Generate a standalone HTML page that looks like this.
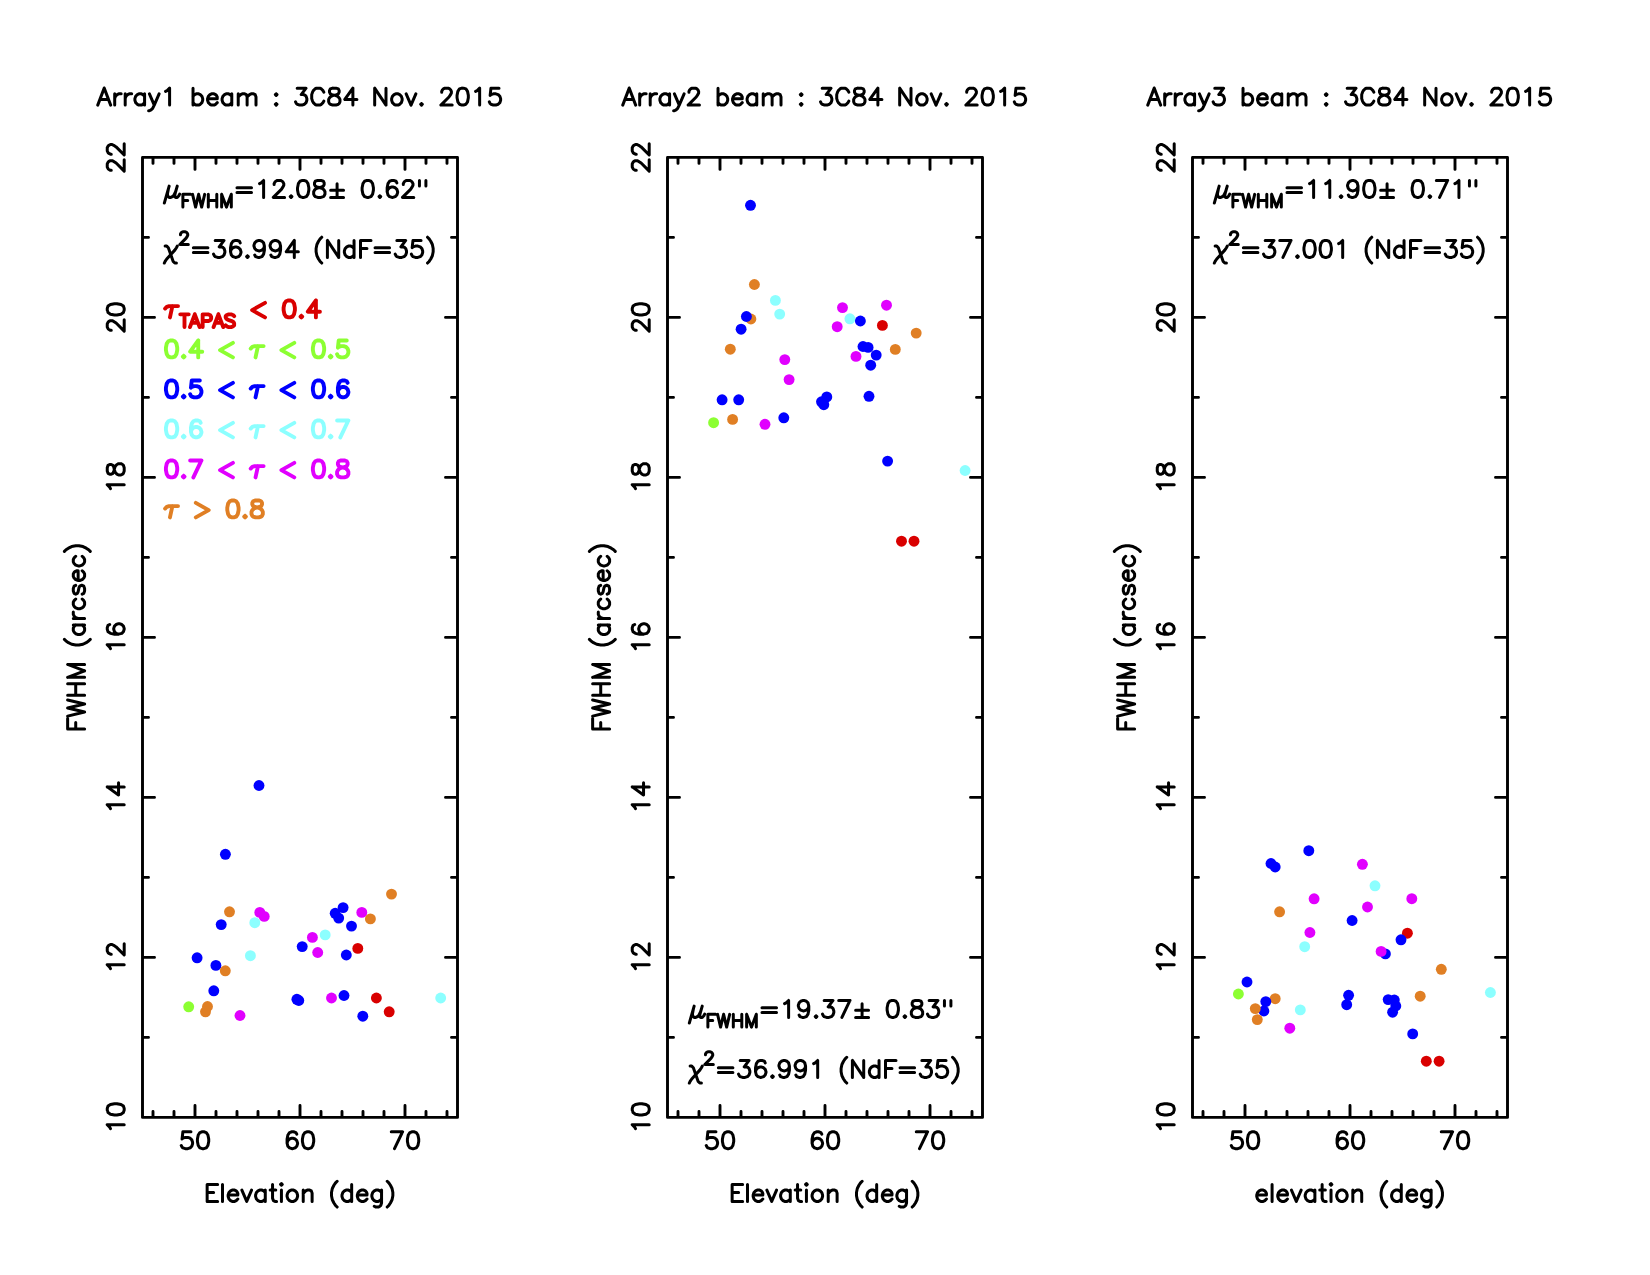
<!DOCTYPE html><html><head><meta charset="utf-8"><style>html,body{margin:0;padding:0;background:#fff;}svg{display:block;}</style></head><body>
<svg width="1650" height="1275" viewBox="0 0 1650 1275">
<rect width="1650" height="1275" fill="#fff"/>
<g fill="none" stroke="#000" stroke-linecap="round" stroke-linejoin="round">
<path stroke-width="2.90" d="M142.5 157.4H457.5V1117.4H142.5ZM153.00 1117.40V1111.40M153.00 157.40V163.40M174.00 1117.40V1111.40M174.00 157.40V163.40M195.00 1117.40V1105.40M195.00 157.40V169.40M216.00 1117.40V1111.40M216.00 157.40V163.40M237.00 1117.40V1111.40M237.00 157.40V163.40M258.00 1117.40V1111.40M258.00 157.40V163.40M279.00 1117.40V1111.40M279.00 157.40V163.40M300.00 1117.40V1105.40M300.00 157.40V169.40M321.00 1117.40V1111.40M321.00 157.40V163.40M342.00 1117.40V1111.40M342.00 157.40V163.40M363.00 1117.40V1111.40M363.00 157.40V163.40M384.00 1117.40V1111.40M384.00 157.40V163.40M405.00 1117.40V1105.40M405.00 157.40V169.40M426.00 1117.40V1111.40M426.00 157.40V163.40M447.00 1117.40V1111.40M447.00 157.40V163.40M142.50 1037.40H148.50M457.50 1037.40H451.50M142.50 957.40H154.50M457.50 957.40H445.50M142.50 877.40H148.50M457.50 877.40H451.50M142.50 797.40H154.50M457.50 797.40H445.50M142.50 717.40H148.50M457.50 717.40H451.50M142.50 637.40H154.50M457.50 637.40H445.50M142.50 557.40H148.50M457.50 557.40H451.50M142.50 477.40H154.50M457.50 477.40H445.50M142.50 397.40H148.50M457.50 397.40H451.50M142.50 317.40H154.50M457.50 317.40H445.50M142.50 237.40H148.50M457.50 237.40H451.50"/>
<path stroke-width="3.00" d="M104.21 88.14L97.75 105.10M104.21 88.14L110.66 105.10M100.17 99.45L108.24 99.45M114.70 93.80L114.70 105.10M114.70 98.64L115.51 96.22 117.12 94.60 118.74 93.80 121.16 93.80M125.20 93.80L125.20 105.10M125.20 98.64L126.01 96.22 127.62 94.60 129.23 93.80 131.66 93.80M144.58 93.80L144.58 105.10M144.58 96.22L142.96 94.60 141.35 93.80 138.92 93.80 137.31 94.60 135.69 96.22 134.89 98.64 134.89 100.26 135.69 102.68 137.31 104.29 138.92 105.10 141.35 105.10 142.96 104.29 144.58 102.68M149.42 93.80L154.26 105.10M159.11 93.80L154.26 105.10 152.65 108.33 151.03 109.94 149.42 110.75 148.61 110.75M165.57 91.37L167.18 90.57 169.60 88.14 169.60 105.10M193.02 88.14L193.02 105.10M193.02 96.22L194.63 94.60 196.25 93.80 198.67 93.80 200.29 94.60 201.90 96.22 202.71 98.64 202.71 100.26 201.90 102.68 200.29 104.29 198.67 105.10 196.25 105.10 194.63 104.29 193.02 102.68M207.55 98.64L217.24 98.64 217.24 97.03 216.43 95.41 215.63 94.60 214.01 93.80 211.59 93.80 209.97 94.60 208.36 96.22 207.55 98.64 207.55 100.26 208.36 102.68 209.97 104.29 211.59 105.10 214.01 105.10 215.63 104.29 217.24 102.68M231.77 93.80L231.77 105.10M231.77 96.22L230.16 94.60 228.55 93.80 226.12 93.80 224.51 94.60 222.89 96.22 222.09 98.64 222.09 100.26 222.89 102.68 224.51 104.29 226.12 105.10 228.55 105.10 230.16 104.29 231.77 102.68M238.23 93.80L238.23 105.10M238.23 97.03L240.66 94.60 242.27 93.80 244.69 93.80 246.31 94.60 247.12 97.03 247.12 105.10M247.12 97.03L249.54 94.60 251.15 93.80 253.57 93.80 255.19 94.60 256.00 97.03 256.00 105.10M276.18 93.80L275.37 94.60 276.18 95.41 276.99 94.60 276.18 93.80M276.18 103.49L275.37 104.29 276.18 105.10 276.99 104.29 276.18 103.49M297.17 88.14L306.06 88.14 301.21 94.60 303.63 94.60 305.25 95.41 306.06 96.22 306.86 98.64 306.86 100.26 306.06 102.68 304.44 104.29 302.02 105.10 299.60 105.10 297.17 104.29 296.37 103.49 295.56 101.87M323.82 92.18L323.01 90.57 321.40 88.95 319.78 88.14 316.55 88.14 314.94 88.95 313.32 90.57 312.51 92.18 311.71 94.60 311.71 98.64 312.51 101.06 313.32 102.68 314.94 104.29 316.55 105.10 319.78 105.10 321.40 104.29 323.01 102.68 323.82 101.06M332.70 88.14L330.28 88.95 329.47 90.57 329.47 92.18 330.28 93.80 331.89 94.60 335.12 95.41 337.54 96.22 339.16 97.83 339.97 99.45 339.97 101.87 339.16 103.49 338.35 104.29 335.93 105.10 332.70 105.10 330.28 104.29 329.47 103.49 328.66 101.87 328.66 99.45 329.47 97.83 331.08 96.22 333.51 95.41 336.74 94.60 338.35 93.80 339.16 92.18 339.16 90.57 338.35 88.95 335.93 88.14 332.70 88.14M352.88 88.14L344.81 99.45 356.92 99.45M352.88 88.14L352.88 105.10M374.68 88.14L374.68 105.10M374.68 88.14L385.99 105.10M385.99 88.14L385.99 105.10M395.68 93.80L394.06 94.60 392.45 96.22 391.64 98.64 391.64 100.26 392.45 102.68 394.06 104.29 395.68 105.10 398.10 105.10 399.71 104.29 401.33 102.68 402.14 100.26 402.14 98.64 401.33 96.22 399.71 94.60 398.10 93.80 395.68 93.80M406.17 93.80L411.02 105.10M415.86 93.80L411.02 105.10M421.51 103.49L420.71 104.29 421.51 105.10 422.32 104.29 421.51 103.49M441.70 92.18L441.70 91.37 442.51 89.76 443.31 88.95 444.93 88.14 448.16 88.14 449.77 88.95 450.58 89.76 451.39 91.37 451.39 92.99 450.58 94.60 448.97 97.03 440.89 105.10 452.19 105.10M461.88 88.14L459.46 88.95 457.85 91.37 457.04 95.41 457.04 97.83 457.85 101.87 459.46 104.29 461.88 105.10 463.50 105.10 465.92 104.29 467.54 101.87 468.34 97.83 468.34 95.41 467.54 91.37 465.92 88.95 463.50 88.14 461.88 88.14M475.61 91.37L477.22 90.57 479.65 88.14 479.65 105.10M499.02 88.14L490.95 88.14 490.14 95.41 490.95 94.60 493.37 93.80 495.79 93.80 498.22 94.60 499.83 96.22 500.64 98.64 500.64 100.26 499.83 102.68 498.22 104.29 495.79 105.10 493.37 105.10 490.95 104.29 490.14 103.49 489.34 101.87M207.15 1184.44L207.15 1201.40M207.15 1184.44L217.65 1184.44M207.15 1192.52L213.61 1192.52M207.15 1201.40L217.65 1201.40M222.49 1184.44L222.49 1201.40M228.14 1194.94L237.83 1194.94 237.83 1193.33 237.02 1191.71 236.22 1190.90 234.60 1190.10 232.18 1190.10 230.56 1190.90 228.95 1192.52 228.14 1194.94 228.14 1196.56 228.95 1198.98 230.56 1200.59 232.18 1201.40 234.60 1201.40 236.22 1200.59 237.83 1198.98M241.87 1190.10L246.71 1201.40M251.56 1190.10L246.71 1201.40M265.28 1190.10L265.28 1201.40M265.28 1192.52L263.67 1190.90 262.05 1190.10 259.63 1190.10 258.02 1190.90 256.40 1192.52 255.59 1194.94 255.59 1196.56 256.40 1198.98 258.02 1200.59 259.63 1201.40 262.05 1201.40 263.67 1200.59 265.28 1198.98M272.55 1184.44L272.55 1198.17 273.36 1200.59 274.97 1201.40 276.59 1201.40M270.13 1190.10L275.78 1190.10M280.62 1184.44L281.43 1185.25 282.24 1184.44 281.43 1183.64 280.62 1184.44M281.43 1190.10L281.43 1201.40M291.12 1190.10L289.50 1190.90 287.89 1192.52 287.08 1194.94 287.08 1196.56 287.89 1198.98 289.50 1200.59 291.12 1201.40 293.54 1201.40 295.16 1200.59 296.77 1198.98 297.58 1196.56 297.58 1194.94 296.77 1192.52 295.16 1190.90 293.54 1190.10 291.12 1190.10M303.23 1190.10L303.23 1201.40M303.23 1193.33L305.65 1190.90 307.27 1190.10 309.69 1190.10 311.30 1190.90 312.11 1193.33 312.11 1201.40M337.14 1181.22L335.53 1182.83 333.91 1185.25 332.30 1188.48 331.49 1192.52 331.49 1195.75 332.30 1199.79 333.91 1203.01 335.53 1205.44 337.14 1207.05M351.67 1184.44L351.67 1201.40M351.67 1192.52L350.06 1190.90 348.44 1190.10 346.02 1190.10 344.41 1190.90 342.79 1192.52 341.98 1194.94 341.98 1196.56 342.79 1198.98 344.41 1200.59 346.02 1201.40 348.44 1201.40 350.06 1200.59 351.67 1198.98M357.33 1194.94L367.01 1194.94 367.01 1193.33 366.21 1191.71 365.40 1190.90 363.78 1190.10 361.36 1190.10 359.75 1190.90 358.13 1192.52 357.33 1194.94 357.33 1196.56 358.13 1198.98 359.75 1200.59 361.36 1201.40 363.78 1201.40 365.40 1200.59 367.01 1198.98M381.55 1190.10L381.55 1203.01 380.74 1205.44 379.93 1206.24 378.32 1207.05 375.90 1207.05 374.28 1206.24M381.55 1192.52L379.93 1190.90 378.32 1190.10 375.90 1190.10 374.28 1190.90 372.67 1192.52 371.86 1194.94 371.86 1196.56 372.67 1198.98 374.28 1200.59 375.90 1201.40 378.32 1201.40 379.93 1200.59 381.55 1198.98M387.20 1181.22L388.81 1182.83 390.43 1185.25 392.04 1188.48 392.85 1192.52 392.85 1195.75 392.04 1199.79 390.43 1203.01 388.81 1205.44 387.20 1207.05M190.96 1131.74L182.89 1131.74 182.08 1139.01 182.89 1138.20 185.31 1137.40 187.73 1137.40 190.16 1138.20 191.77 1139.82 192.58 1142.24 192.58 1143.86 191.77 1146.28 190.16 1147.89 187.73 1148.70 185.31 1148.70 182.89 1147.89 182.08 1147.09 181.27 1145.47M202.27 1131.74L199.84 1132.55 198.23 1134.97 197.42 1139.01 197.42 1141.43 198.23 1145.47 199.84 1147.89 202.27 1148.70 203.88 1148.70 206.30 1147.89 207.92 1145.47 208.73 1141.43 208.73 1139.01 207.92 1134.97 206.30 1132.55 203.88 1131.74 202.27 1131.74M296.77 1134.17L295.96 1132.55 293.54 1131.74 291.93 1131.74 289.50 1132.55 287.89 1134.97 287.08 1139.01 287.08 1143.05 287.89 1146.28 289.50 1147.89 291.93 1148.70 292.73 1148.70 295.16 1147.89 296.77 1146.28 297.58 1143.86 297.58 1143.05 296.77 1140.63 295.16 1139.01 292.73 1138.20 291.93 1138.20 289.50 1139.01 287.89 1140.63 287.08 1143.05M307.27 1131.74L304.84 1132.55 303.23 1134.97 302.42 1139.01 302.42 1141.43 303.23 1145.47 304.84 1147.89 307.27 1148.70 308.88 1148.70 311.30 1147.89 312.92 1145.47 313.73 1141.43 313.73 1139.01 312.92 1134.97 311.30 1132.55 308.88 1131.74 307.27 1131.74M402.58 1131.74L394.50 1148.70M391.27 1131.74L402.58 1131.74M412.27 1131.74L409.84 1132.55 408.23 1134.97 407.42 1139.01 407.42 1141.43 408.23 1145.47 409.84 1147.89 412.27 1148.70 413.88 1148.70 416.30 1147.89 417.92 1145.47 418.73 1141.43 418.73 1139.01 417.92 1134.97 416.30 1132.55 413.88 1131.74 412.27 1131.74M110.47 1128.70L109.67 1127.09 107.24 1124.67 124.20 1124.67M107.24 1110.13L108.05 1112.56 110.47 1114.17 114.51 1114.98 116.93 1114.98 120.97 1114.17 123.39 1112.56 124.20 1110.13 124.20 1108.52 123.39 1106.10 120.97 1104.48 116.93 1103.67 114.51 1103.67 110.47 1104.48 108.05 1106.10 107.24 1108.52 107.24 1110.13M110.47 968.70L109.67 967.09 107.24 964.67 124.20 964.67M111.28 954.17L110.47 954.17 108.86 953.36 108.05 952.56 107.24 950.94 107.24 947.71 108.05 946.10 108.86 945.29 110.47 944.48 112.09 944.48 113.70 945.29 116.13 946.90 124.20 954.98 124.20 943.67M110.47 808.70L109.67 807.09 107.24 804.67 124.20 804.67M107.24 786.90L118.55 794.98 118.55 782.87M107.24 786.90L124.20 786.90M110.47 648.70L109.67 647.09 107.24 644.67 124.20 644.67M109.67 624.48L108.05 625.29 107.24 627.71 107.24 629.33 108.05 631.75 110.47 633.36 114.51 634.17 118.55 634.17 121.78 633.36 123.39 631.75 124.20 629.33 124.20 628.52 123.39 626.10 121.78 624.48 119.36 623.67 118.55 623.67 116.13 624.48 114.51 626.10 113.70 628.52 113.70 629.33 114.51 631.75 116.13 633.36 118.55 634.17M110.47 488.70L109.67 487.09 107.24 484.67 124.20 484.67M107.24 470.94L108.05 473.36 109.67 474.17 111.28 474.17 112.90 473.36 113.70 471.75 114.51 468.52 115.32 466.10 116.93 464.48 118.55 463.67 120.97 463.67 122.59 464.48 123.39 465.29 124.20 467.71 124.20 470.94 123.39 473.36 122.59 474.17 120.97 474.98 118.55 474.98 116.93 474.17 115.32 472.56 114.51 470.13 113.70 466.90 112.90 465.29 111.28 464.48 109.67 464.48 108.05 465.29 107.24 467.71 107.24 470.94M111.28 330.32L110.47 330.32 108.86 329.51 108.05 328.70 107.24 327.09 107.24 323.86 108.05 322.24 108.86 321.44 110.47 320.63 112.09 320.63 113.70 321.44 116.13 323.05 124.20 331.13 124.20 319.82M107.24 310.13L108.05 312.56 110.47 314.17 114.51 314.98 116.93 314.98 120.97 314.17 123.39 312.56 124.20 310.13 124.20 308.52 123.39 306.10 120.97 304.48 116.93 303.67 114.51 303.67 110.47 304.48 108.05 306.10 107.24 308.52 107.24 310.13M111.28 170.32L110.47 170.32 108.86 169.51 108.05 168.70 107.24 167.09 107.24 163.86 108.05 162.24 108.86 161.44 110.47 160.63 112.09 160.63 113.70 161.44 116.13 163.05 124.20 171.13 124.20 159.82M111.28 154.17L110.47 154.17 108.86 153.36 108.05 152.56 107.24 150.94 107.24 147.71 108.05 146.10 108.86 145.29 110.47 144.48 112.09 144.48 113.70 145.29 116.13 146.90 124.20 154.98 124.20 143.67M67.64 729.04L84.60 729.04M67.64 729.04L67.64 718.54M75.72 729.04L75.72 722.58M67.64 716.12L84.60 712.08M67.64 708.05L84.60 712.08M67.64 708.05L84.60 704.01M67.64 699.97L84.60 704.01M67.64 695.13L84.60 695.13M67.64 683.83L84.60 683.83M75.72 695.13L75.72 683.83M67.64 677.37L84.60 677.37M67.64 677.37L84.60 670.91M67.64 664.45L84.60 670.91M67.64 664.45L84.60 664.45M64.41 639.42L66.03 641.03 68.45 642.65 71.68 644.26 75.72 645.07 78.95 645.07 82.99 644.26 86.21 642.65 88.64 641.03 90.25 639.42M73.30 624.89L84.60 624.89M75.72 624.89L74.10 626.50 73.30 628.11 73.30 630.54 74.10 632.15 75.72 633.77 78.14 634.57 79.76 634.57 82.18 633.77 83.79 632.15 84.60 630.54 84.60 628.11 83.79 626.50 82.18 624.89M73.30 618.43L84.60 618.43M78.14 618.43L75.72 617.62 74.10 616.00 73.30 614.39 73.30 611.97M75.72 599.05L74.10 600.66 73.30 602.28 73.30 604.70 74.10 606.32 75.72 607.93 78.14 608.74 79.76 608.74 82.18 607.93 83.79 606.32 84.60 604.70 84.60 602.28 83.79 600.66 82.18 599.05M75.72 585.32L74.10 586.13 73.30 588.55 73.30 590.97 74.10 593.40 75.72 594.20 77.33 593.40 78.14 591.78 78.95 587.74 79.76 586.13 81.37 585.32 82.18 585.32 83.79 586.13 84.60 588.55 84.60 590.97 83.79 593.40 82.18 594.20M78.14 580.48L78.14 570.79 76.53 570.79 74.91 571.60 74.10 572.40 73.30 574.02 73.30 576.44 74.10 578.06 75.72 579.67 78.14 580.48 79.76 580.48 82.18 579.67 83.79 578.06 84.60 576.44 84.60 574.02 83.79 572.40 82.18 570.79M75.72 556.26L74.10 557.87 73.30 559.49 73.30 561.91 74.10 563.52 75.72 565.14 78.14 565.95 79.76 565.95 82.18 565.14 83.79 563.52 84.60 561.91 84.60 559.49 83.79 557.87 82.18 556.26M64.41 551.41L66.03 549.80 68.45 548.18 71.68 546.57 75.72 545.76 78.95 545.76 82.99 546.57 86.21 548.18 88.64 549.80 90.25 551.41M169.15 186.10L164.31 203.05M168.34 189.33L167.54 193.36 167.54 195.79 169.15 197.40 170.77 197.40 172.38 196.59 174.00 194.98 175.61 191.75M177.23 186.10L175.61 191.75 174.80 194.98 174.80 196.59 175.61 197.40 177.23 197.40 178.84 195.79 179.65 194.17M182.88 194.37L182.88 207.09M182.88 194.37L190.75 194.37M182.88 200.43L187.72 200.43M192.57 194.37L195.59 207.09M198.62 194.37L195.59 207.09M198.62 194.37L201.65 207.09M204.68 194.37L201.65 207.09M208.31 194.37L208.31 207.09M216.79 194.37L216.79 207.09M208.31 200.43L216.79 200.43M221.63 194.37L221.63 207.09M221.63 194.37L226.48 207.09M231.32 194.37L226.48 207.09M231.32 194.37L231.32 207.09M236.97 187.71L251.51 187.71M236.97 192.56L251.51 192.56M259.58 183.67L261.20 182.87 263.62 180.44 263.62 197.40M274.11 184.48L274.11 183.67 274.92 182.06 275.73 181.25 277.34 180.44 280.57 180.44 282.19 181.25 283.00 182.06 283.80 183.67 283.80 185.29 283.00 186.90 281.38 189.33 273.31 197.40 284.61 197.40M291.07 195.79L290.26 196.59 291.07 197.40 291.88 196.59 291.07 195.79M302.37 180.44L299.95 181.25 298.34 183.67 297.53 187.71 297.53 190.13 298.34 194.17 299.95 196.59 302.37 197.40 303.99 197.40 306.41 196.59 308.02 194.17 308.83 190.13 308.83 187.71 308.02 183.67 306.41 181.25 303.99 180.44 302.37 180.44M317.71 180.44L315.29 181.25 314.48 182.87 314.48 184.48 315.29 186.10 316.91 186.90 320.14 187.71 322.56 188.52 324.17 190.13 324.98 191.75 324.98 194.17 324.17 195.79 323.37 196.59 320.94 197.40 317.71 197.40 315.29 196.59 314.48 195.79 313.68 194.17 313.68 191.75 314.48 190.13 316.10 188.52 318.52 187.71 321.75 186.90 323.37 186.10 324.17 184.48 324.17 182.87 323.37 181.25 320.94 180.44 317.71 180.44M337.09 183.67L337.09 197.40M330.63 190.13L343.55 190.13M330.63 197.40L343.55 197.40M366.96 180.44L364.54 181.25 362.93 183.67 362.12 187.71 362.12 190.13 362.93 194.17 364.54 196.59 366.96 197.40 368.58 197.40 371.00 196.59 372.62 194.17 373.42 190.13 373.42 187.71 372.62 183.67 371.00 181.25 368.58 180.44 366.96 180.44M379.88 195.79L379.08 196.59 379.88 197.40 380.69 196.59 379.88 195.79M396.84 182.87L396.03 181.25 393.61 180.44 391.99 180.44 389.57 181.25 387.96 183.67 387.15 187.71 387.15 191.75 387.96 194.98 389.57 196.59 391.99 197.40 392.80 197.40 395.22 196.59 396.84 194.98 397.65 192.56 397.65 191.75 396.84 189.33 395.22 187.71 392.80 186.90 391.99 186.90 389.57 187.71 387.96 189.33 387.15 191.75M403.30 184.48L403.30 183.67 404.11 182.06 404.91 181.25 406.53 180.44 409.76 180.44 411.37 181.25 412.18 182.06 412.99 183.67 412.99 185.29 412.18 186.90 410.56 189.33 402.49 197.40 413.79 197.40M419.45 180.44L419.45 186.10M425.90 180.44L425.90 186.10M165.11 246.10L166.73 246.10 168.34 247.71 173.19 261.44 174.80 263.05 176.42 263.05M177.23 246.10L176.42 247.71 174.80 250.13 166.73 259.01 165.11 261.44 164.31 263.05M180.46 234.79L180.46 234.19 181.06 232.98 181.67 232.37 182.88 231.77 185.30 231.77 186.51 232.37 187.12 232.98 187.72 234.19 187.72 235.40 187.12 236.61 185.91 238.43 179.85 244.48 188.33 244.48M193.37 247.71L207.91 247.71M193.37 252.56L207.91 252.56M215.17 240.44L224.06 240.44 219.21 246.90 221.63 246.90 223.25 247.71 224.06 248.52 224.86 250.94 224.86 252.56 224.06 254.98 222.44 256.59 220.02 257.40 217.60 257.40 215.17 256.59 214.37 255.79 213.56 254.17M240.20 242.87L239.40 241.25 236.97 240.44 235.36 240.44 232.94 241.25 231.32 243.67 230.51 247.71 230.51 251.75 231.32 254.98 232.94 256.59 235.36 257.40 236.17 257.40 238.59 256.59 240.20 254.98 241.01 252.56 241.01 251.75 240.20 249.33 238.59 247.71 236.17 246.90 235.36 246.90 232.94 247.71 231.32 249.33 230.51 251.75M247.47 255.79L246.66 256.59 247.47 257.40 248.28 256.59 247.47 255.79M264.42 246.10L263.62 248.52 262.00 250.13 259.58 250.94 258.77 250.94 256.35 250.13 254.74 248.52 253.93 246.10 253.93 245.29 254.74 242.87 256.35 241.25 258.77 240.44 259.58 240.44 262.00 241.25 263.62 242.87 264.42 246.10 264.42 250.13 263.62 254.17 262.00 256.59 259.58 257.40 257.97 257.40 255.54 256.59 254.74 254.98M280.57 246.10L279.77 248.52 278.15 250.13 275.73 250.94 274.92 250.94 272.50 250.13 270.88 248.52 270.08 246.10 270.08 245.29 270.88 242.87 272.50 241.25 274.92 240.44 275.73 240.44 278.15 241.25 279.77 242.87 280.57 246.10 280.57 250.13 279.77 254.17 278.15 256.59 275.73 257.40 274.11 257.40 271.69 256.59 270.88 254.98M294.30 240.44L286.22 251.75 298.34 251.75M294.30 240.44L294.30 257.40M321.75 237.21L320.14 238.83 318.52 241.25 316.91 244.48 316.10 248.52 316.10 251.75 316.91 255.79 318.52 259.01 320.14 261.44 321.75 263.05M327.40 240.44L327.40 257.40M327.40 240.44L338.71 257.40M338.71 240.44L338.71 257.40M354.05 240.44L354.05 257.40M354.05 248.52L352.43 246.90 350.82 246.10 348.39 246.10 346.78 246.90 345.16 248.52 344.36 250.94 344.36 252.56 345.16 254.98 346.78 256.59 348.39 257.40 350.82 257.40 352.43 256.59 354.05 254.98M360.51 240.44L360.51 257.40M360.51 240.44L371.00 240.44M360.51 248.52L366.96 248.52M375.04 247.71L389.57 247.71M375.04 252.56L389.57 252.56M396.84 240.44L405.72 240.44 400.88 246.90 403.30 246.90 404.91 247.71 405.72 248.52 406.53 250.94 406.53 252.56 405.72 254.98 404.11 256.59 401.68 257.40 399.26 257.40 396.84 256.59 396.03 255.79 395.22 254.17M421.06 240.44L412.99 240.44 412.18 247.71 412.99 246.90 415.41 246.10 417.83 246.10 420.25 246.90 421.87 248.52 422.68 250.94 422.68 252.56 421.87 254.98 420.25 256.59 417.83 257.40 415.41 257.40 412.99 256.59 412.18 255.79 411.37 254.17M427.52 237.21L429.13 238.83 430.75 241.25 432.36 244.48 433.17 248.52 433.17 251.75 432.36 255.79 430.75 259.01 429.13 261.44 427.52 263.05"/>
<path stroke-width="2.90" d="M667.5 157.4H982.5V1117.4H667.5ZM678.00 1117.40V1111.40M678.00 157.40V163.40M699.00 1117.40V1111.40M699.00 157.40V163.40M720.00 1117.40V1105.40M720.00 157.40V169.40M741.00 1117.40V1111.40M741.00 157.40V163.40M762.00 1117.40V1111.40M762.00 157.40V163.40M783.00 1117.40V1111.40M783.00 157.40V163.40M804.00 1117.40V1111.40M804.00 157.40V163.40M825.00 1117.40V1105.40M825.00 157.40V169.40M846.00 1117.40V1111.40M846.00 157.40V163.40M867.00 1117.40V1111.40M867.00 157.40V163.40M888.00 1117.40V1111.40M888.00 157.40V163.40M909.00 1117.40V1111.40M909.00 157.40V163.40M930.00 1117.40V1105.40M930.00 157.40V169.40M951.00 1117.40V1111.40M951.00 157.40V163.40M972.00 1117.40V1111.40M972.00 157.40V163.40M667.50 1037.40H673.50M982.50 1037.40H976.50M667.50 957.40H679.50M982.50 957.40H970.50M667.50 877.40H673.50M982.50 877.40H976.50M667.50 797.40H679.50M982.50 797.40H970.50M667.50 717.40H673.50M982.50 717.40H976.50M667.50 637.40H679.50M982.50 637.40H970.50M667.50 557.40H673.50M982.50 557.40H976.50M667.50 477.40H679.50M982.50 477.40H970.50M667.50 397.40H673.50M982.50 397.40H976.50M667.50 317.40H679.50M982.50 317.40H970.50M667.50 237.40H673.50M982.50 237.40H976.50"/>
<path stroke-width="3.00" d="M629.21 88.14L622.75 105.10M629.21 88.14L635.66 105.10M625.17 99.45L633.24 99.45M639.70 93.80L639.70 105.10M639.70 98.64L640.51 96.22 642.12 94.60 643.74 93.80 646.16 93.80M650.20 93.80L650.20 105.10M650.20 98.64L651.01 96.22 652.62 94.60 654.23 93.80 656.66 93.80M669.58 93.80L669.58 105.10M669.58 96.22L667.96 94.60 666.35 93.80 663.92 93.80 662.31 94.60 660.69 96.22 659.89 98.64 659.89 100.26 660.69 102.68 662.31 104.29 663.92 105.10 666.35 105.10 667.96 104.29 669.58 102.68M674.42 93.80L679.26 105.10M684.11 93.80L679.26 105.10 677.65 108.33 676.03 109.94 674.42 110.75 673.61 110.75M688.95 92.18L688.95 91.37 689.76 89.76 690.57 88.95 692.18 88.14 695.41 88.14 697.03 88.95 697.83 89.76 698.64 91.37 698.64 92.99 697.83 94.60 696.22 97.03 688.15 105.10 699.45 105.10M718.02 88.14L718.02 105.10M718.02 96.22L719.63 94.60 721.25 93.80 723.67 93.80 725.29 94.60 726.90 96.22 727.71 98.64 727.71 100.26 726.90 102.68 725.29 104.29 723.67 105.10 721.25 105.10 719.63 104.29 718.02 102.68M732.55 98.64L742.24 98.64 742.24 97.03 741.43 95.41 740.63 94.60 739.01 93.80 736.59 93.80 734.97 94.60 733.36 96.22 732.55 98.64 732.55 100.26 733.36 102.68 734.97 104.29 736.59 105.10 739.01 105.10 740.63 104.29 742.24 102.68M756.77 93.80L756.77 105.10M756.77 96.22L755.16 94.60 753.55 93.80 751.12 93.80 749.51 94.60 747.89 96.22 747.09 98.64 747.09 100.26 747.89 102.68 749.51 104.29 751.12 105.10 753.55 105.10 755.16 104.29 756.77 102.68M763.23 93.80L763.23 105.10M763.23 97.03L765.66 94.60 767.27 93.80 769.69 93.80 771.31 94.60 772.12 97.03 772.12 105.10M772.12 97.03L774.54 94.60 776.15 93.80 778.57 93.80 780.19 94.60 781.00 97.03 781.00 105.10M801.18 93.80L800.37 94.60 801.18 95.41 801.99 94.60 801.18 93.80M801.18 103.49L800.37 104.29 801.18 105.10 801.99 104.29 801.18 103.49M822.17 88.14L831.06 88.14 826.21 94.60 828.63 94.60 830.25 95.41 831.06 96.22 831.86 98.64 831.86 100.26 831.06 102.68 829.44 104.29 827.02 105.10 824.60 105.10 822.17 104.29 821.37 103.49 820.56 101.87M848.82 92.18L848.01 90.57 846.40 88.95 844.78 88.14 841.55 88.14 839.94 88.95 838.32 90.57 837.51 92.18 836.71 94.60 836.71 98.64 837.51 101.06 838.32 102.68 839.94 104.29 841.55 105.10 844.78 105.10 846.40 104.29 848.01 102.68 848.82 101.06M857.70 88.14L855.28 88.95 854.47 90.57 854.47 92.18 855.28 93.80 856.89 94.60 860.12 95.41 862.54 96.22 864.16 97.83 864.97 99.45 864.97 101.87 864.16 103.49 863.35 104.29 860.93 105.10 857.70 105.10 855.28 104.29 854.47 103.49 853.66 101.87 853.66 99.45 854.47 97.83 856.08 96.22 858.51 95.41 861.74 94.60 863.35 93.80 864.16 92.18 864.16 90.57 863.35 88.95 860.93 88.14 857.70 88.14M877.88 88.14L869.81 99.45 881.92 99.45M877.88 88.14L877.88 105.10M899.68 88.14L899.68 105.10M899.68 88.14L910.99 105.10M910.99 88.14L910.99 105.10M920.68 93.80L919.06 94.60 917.45 96.22 916.64 98.64 916.64 100.26 917.45 102.68 919.06 104.29 920.68 105.10 923.10 105.10 924.71 104.29 926.33 102.68 927.14 100.26 927.14 98.64 926.33 96.22 924.71 94.60 923.10 93.80 920.68 93.80M931.17 93.80L936.02 105.10M940.86 93.80L936.02 105.10M946.51 103.49L945.71 104.29 946.51 105.10 947.32 104.29 946.51 103.49M966.70 92.18L966.70 91.37 967.51 89.76 968.31 88.95 969.93 88.14 973.16 88.14 974.77 88.95 975.58 89.76 976.39 91.37 976.39 92.99 975.58 94.60 973.97 97.03 965.89 105.10 977.19 105.10M986.88 88.14L984.46 88.95 982.85 91.37 982.04 95.41 982.04 97.83 982.85 101.87 984.46 104.29 986.88 105.10 988.50 105.10 990.92 104.29 992.54 101.87 993.34 97.83 993.34 95.41 992.54 91.37 990.92 88.95 988.50 88.14 986.88 88.14M1000.61 91.37L1002.22 90.57 1004.65 88.14 1004.65 105.10M1024.02 88.14L1015.95 88.14 1015.14 95.41 1015.95 94.60 1018.37 93.80 1020.79 93.80 1023.22 94.60 1024.83 96.22 1025.64 98.64 1025.64 100.26 1024.83 102.68 1023.22 104.29 1020.79 105.10 1018.37 105.10 1015.95 104.29 1015.14 103.49 1014.34 101.87M732.15 1184.44L732.15 1201.40M732.15 1184.44L742.65 1184.44M732.15 1192.52L738.61 1192.52M732.15 1201.40L742.65 1201.40M747.49 1184.44L747.49 1201.40M753.14 1194.94L762.83 1194.94 762.83 1193.33 762.02 1191.71 761.22 1190.90 759.60 1190.10 757.18 1190.10 755.56 1190.90 753.95 1192.52 753.14 1194.94 753.14 1196.56 753.95 1198.98 755.56 1200.59 757.18 1201.40 759.60 1201.40 761.22 1200.59 762.83 1198.98M766.87 1190.10L771.71 1201.40M776.56 1190.10L771.71 1201.40M790.28 1190.10L790.28 1201.40M790.28 1192.52L788.67 1190.90 787.05 1190.10 784.63 1190.10 783.02 1190.90 781.40 1192.52 780.59 1194.94 780.59 1196.56 781.40 1198.98 783.02 1200.59 784.63 1201.40 787.05 1201.40 788.67 1200.59 790.28 1198.98M797.55 1184.44L797.55 1198.17 798.36 1200.59 799.97 1201.40 801.59 1201.40M795.13 1190.10L800.78 1190.10M805.62 1184.44L806.43 1185.25 807.24 1184.44 806.43 1183.64 805.62 1184.44M806.43 1190.10L806.43 1201.40M816.12 1190.10L814.50 1190.90 812.89 1192.52 812.08 1194.94 812.08 1196.56 812.89 1198.98 814.50 1200.59 816.12 1201.40 818.54 1201.40 820.16 1200.59 821.77 1198.98 822.58 1196.56 822.58 1194.94 821.77 1192.52 820.16 1190.90 818.54 1190.10 816.12 1190.10M828.23 1190.10L828.23 1201.40M828.23 1193.33L830.65 1190.90 832.27 1190.10 834.69 1190.10 836.30 1190.90 837.11 1193.33 837.11 1201.40M862.14 1181.22L860.53 1182.83 858.91 1185.25 857.30 1188.48 856.49 1192.52 856.49 1195.75 857.30 1199.79 858.91 1203.01 860.53 1205.44 862.14 1207.05M876.67 1184.44L876.67 1201.40M876.67 1192.52L875.06 1190.90 873.44 1190.10 871.02 1190.10 869.41 1190.90 867.79 1192.52 866.98 1194.94 866.98 1196.56 867.79 1198.98 869.41 1200.59 871.02 1201.40 873.44 1201.40 875.06 1200.59 876.67 1198.98M882.33 1194.94L892.01 1194.94 892.01 1193.33 891.21 1191.71 890.40 1190.90 888.78 1190.10 886.36 1190.10 884.75 1190.90 883.13 1192.52 882.33 1194.94 882.33 1196.56 883.13 1198.98 884.75 1200.59 886.36 1201.40 888.78 1201.40 890.40 1200.59 892.01 1198.98M906.55 1190.10L906.55 1203.01 905.74 1205.44 904.93 1206.24 903.32 1207.05 900.90 1207.05 899.28 1206.24M906.55 1192.52L904.93 1190.90 903.32 1190.10 900.90 1190.10 899.28 1190.90 897.67 1192.52 896.86 1194.94 896.86 1196.56 897.67 1198.98 899.28 1200.59 900.90 1201.40 903.32 1201.40 904.93 1200.59 906.55 1198.98M912.20 1181.22L913.81 1182.83 915.43 1185.25 917.04 1188.48 917.85 1192.52 917.85 1195.75 917.04 1199.79 915.43 1203.01 913.81 1205.44 912.20 1207.05M715.96 1131.74L707.89 1131.74 707.08 1139.01 707.89 1138.20 710.31 1137.40 712.73 1137.40 715.16 1138.20 716.77 1139.82 717.58 1142.24 717.58 1143.86 716.77 1146.28 715.16 1147.89 712.73 1148.70 710.31 1148.70 707.89 1147.89 707.08 1147.09 706.27 1145.47M727.27 1131.74L724.84 1132.55 723.23 1134.97 722.42 1139.01 722.42 1141.43 723.23 1145.47 724.84 1147.89 727.27 1148.70 728.88 1148.70 731.30 1147.89 732.92 1145.47 733.73 1141.43 733.73 1139.01 732.92 1134.97 731.30 1132.55 728.88 1131.74 727.27 1131.74M821.77 1134.17L820.96 1132.55 818.54 1131.74 816.93 1131.74 814.50 1132.55 812.89 1134.97 812.08 1139.01 812.08 1143.05 812.89 1146.28 814.50 1147.89 816.93 1148.70 817.73 1148.70 820.16 1147.89 821.77 1146.28 822.58 1143.86 822.58 1143.05 821.77 1140.63 820.16 1139.01 817.73 1138.20 816.93 1138.20 814.50 1139.01 812.89 1140.63 812.08 1143.05M832.27 1131.74L829.84 1132.55 828.23 1134.97 827.42 1139.01 827.42 1141.43 828.23 1145.47 829.84 1147.89 832.27 1148.70 833.88 1148.70 836.30 1147.89 837.92 1145.47 838.73 1141.43 838.73 1139.01 837.92 1134.97 836.30 1132.55 833.88 1131.74 832.27 1131.74M927.58 1131.74L919.50 1148.70M916.27 1131.74L927.58 1131.74M937.27 1131.74L934.84 1132.55 933.23 1134.97 932.42 1139.01 932.42 1141.43 933.23 1145.47 934.84 1147.89 937.27 1148.70 938.88 1148.70 941.30 1147.89 942.92 1145.47 943.73 1141.43 943.73 1139.01 942.92 1134.97 941.30 1132.55 938.88 1131.74 937.27 1131.74M635.47 1128.70L634.67 1127.09 632.24 1124.67 649.20 1124.67M632.24 1110.13L633.05 1112.56 635.47 1114.17 639.51 1114.98 641.93 1114.98 645.97 1114.17 648.39 1112.56 649.20 1110.13 649.20 1108.52 648.39 1106.10 645.97 1104.48 641.93 1103.67 639.51 1103.67 635.47 1104.48 633.05 1106.10 632.24 1108.52 632.24 1110.13M635.47 968.70L634.67 967.09 632.24 964.67 649.20 964.67M636.28 954.17L635.47 954.17 633.86 953.36 633.05 952.56 632.24 950.94 632.24 947.71 633.05 946.10 633.86 945.29 635.47 944.48 637.09 944.48 638.70 945.29 641.13 946.90 649.20 954.98 649.20 943.67M635.47 808.70L634.67 807.09 632.24 804.67 649.20 804.67M632.24 786.90L643.55 794.98 643.55 782.87M632.24 786.90L649.20 786.90M635.47 648.70L634.67 647.09 632.24 644.67 649.20 644.67M634.67 624.48L633.05 625.29 632.24 627.71 632.24 629.33 633.05 631.75 635.47 633.36 639.51 634.17 643.55 634.17 646.78 633.36 648.39 631.75 649.20 629.33 649.20 628.52 648.39 626.10 646.78 624.48 644.36 623.67 643.55 623.67 641.13 624.48 639.51 626.10 638.70 628.52 638.70 629.33 639.51 631.75 641.13 633.36 643.55 634.17M635.47 488.70L634.67 487.09 632.24 484.67 649.20 484.67M632.24 470.94L633.05 473.36 634.67 474.17 636.28 474.17 637.90 473.36 638.70 471.75 639.51 468.52 640.32 466.10 641.93 464.48 643.55 463.67 645.97 463.67 647.59 464.48 648.39 465.29 649.20 467.71 649.20 470.94 648.39 473.36 647.59 474.17 645.97 474.98 643.55 474.98 641.93 474.17 640.32 472.56 639.51 470.13 638.70 466.90 637.90 465.29 636.28 464.48 634.67 464.48 633.05 465.29 632.24 467.71 632.24 470.94M636.28 330.32L635.47 330.32 633.86 329.51 633.05 328.70 632.24 327.09 632.24 323.86 633.05 322.24 633.86 321.44 635.47 320.63 637.09 320.63 638.70 321.44 641.13 323.05 649.20 331.13 649.20 319.82M632.24 310.13L633.05 312.56 635.47 314.17 639.51 314.98 641.93 314.98 645.97 314.17 648.39 312.56 649.20 310.13 649.20 308.52 648.39 306.10 645.97 304.48 641.93 303.67 639.51 303.67 635.47 304.48 633.05 306.10 632.24 308.52 632.24 310.13M636.28 170.32L635.47 170.32 633.86 169.51 633.05 168.70 632.24 167.09 632.24 163.86 633.05 162.24 633.86 161.44 635.47 160.63 637.09 160.63 638.70 161.44 641.13 163.05 649.20 171.13 649.20 159.82M636.28 154.17L635.47 154.17 633.86 153.36 633.05 152.56 632.24 150.94 632.24 147.71 633.05 146.10 633.86 145.29 635.47 144.48 637.09 144.48 638.70 145.29 641.13 146.90 649.20 154.98 649.20 143.67M592.64 729.04L609.60 729.04M592.64 729.04L592.64 718.54M600.72 729.04L600.72 722.58M592.64 716.12L609.60 712.08M592.64 708.05L609.60 712.08M592.64 708.05L609.60 704.01M592.64 699.97L609.60 704.01M592.64 695.13L609.60 695.13M592.64 683.83L609.60 683.83M600.72 695.13L600.72 683.83M592.64 677.37L609.60 677.37M592.64 677.37L609.60 670.91M592.64 664.45L609.60 670.91M592.64 664.45L609.60 664.45M589.42 639.42L591.03 641.03 593.45 642.65 596.68 644.26 600.72 645.07 603.95 645.07 607.99 644.26 611.21 642.65 613.64 641.03 615.25 639.42M598.30 624.89L609.60 624.89M600.72 624.89L599.10 626.50 598.30 628.11 598.30 630.54 599.10 632.15 600.72 633.77 603.14 634.57 604.76 634.57 607.18 633.77 608.79 632.15 609.60 630.54 609.60 628.11 608.79 626.50 607.18 624.89M598.30 618.43L609.60 618.43M603.14 618.43L600.72 617.62 599.10 616.00 598.30 614.39 598.30 611.97M600.72 599.05L599.10 600.66 598.30 602.28 598.30 604.70 599.10 606.32 600.72 607.93 603.14 608.74 604.76 608.74 607.18 607.93 608.79 606.32 609.60 604.70 609.60 602.28 608.79 600.66 607.18 599.05M600.72 585.32L599.10 586.13 598.30 588.55 598.30 590.97 599.10 593.40 600.72 594.20 602.33 593.40 603.14 591.78 603.95 587.74 604.76 586.13 606.37 585.32 607.18 585.32 608.79 586.13 609.60 588.55 609.60 590.97 608.79 593.40 607.18 594.20M603.14 580.48L603.14 570.79 601.53 570.79 599.91 571.60 599.10 572.40 598.30 574.02 598.30 576.44 599.10 578.06 600.72 579.67 603.14 580.48 604.76 580.48 607.18 579.67 608.79 578.06 609.60 576.44 609.60 574.02 608.79 572.40 607.18 570.79M600.72 556.26L599.10 557.87 598.30 559.49 598.30 561.91 599.10 563.52 600.72 565.14 603.14 565.95 604.76 565.95 607.18 565.14 608.79 563.52 609.60 561.91 609.60 559.49 608.79 557.87 607.18 556.26M589.42 551.41L591.03 549.80 593.45 548.18 596.68 546.57 600.72 545.76 603.95 545.76 607.99 546.57 611.21 548.18 613.64 549.80 615.25 551.41M694.15 1006.10L689.31 1023.05M693.34 1009.33L692.54 1013.36 692.54 1015.79 694.15 1017.40 695.77 1017.40 697.38 1016.59 699.00 1014.98 700.61 1011.75M702.23 1006.10L700.61 1011.75 699.80 1014.98 699.80 1016.59 700.61 1017.40 702.23 1017.40 703.84 1015.79 704.65 1014.17M707.88 1014.37L707.88 1027.09M707.88 1014.37L715.75 1014.37M707.88 1020.43L712.72 1020.43M717.57 1014.37L720.59 1027.09M723.62 1014.37L720.59 1027.09M723.62 1014.37L726.65 1027.09M729.68 1014.37L726.65 1027.09M733.31 1014.37L733.31 1027.09M741.79 1014.37L741.79 1027.09M733.31 1020.43L741.79 1020.43M746.63 1014.37L746.63 1027.09M746.63 1014.37L751.48 1027.09M756.32 1014.37L751.48 1027.09M756.32 1014.37L756.32 1027.09M761.97 1007.71L776.51 1007.71M761.97 1012.56L776.51 1012.56M784.58 1003.67L786.20 1002.87 788.62 1000.44 788.62 1017.40M808.80 1006.10L808.00 1008.52 806.38 1010.13 803.96 1010.94 803.15 1010.94 800.73 1010.13 799.11 1008.52 798.31 1006.10 798.31 1005.29 799.11 1002.87 800.73 1001.25 803.15 1000.44 803.96 1000.44 806.38 1001.25 808.00 1002.87 808.80 1006.10 808.80 1010.13 808.00 1014.17 806.38 1016.59 803.96 1017.40 802.34 1017.40 799.92 1016.59 799.11 1014.98M816.07 1015.79L815.26 1016.59 816.07 1017.40 816.88 1016.59 816.07 1015.79M824.14 1000.44L833.02 1000.44 828.18 1006.90 830.60 1006.90 832.22 1007.71 833.02 1008.52 833.83 1010.94 833.83 1012.56 833.02 1014.98 831.41 1016.59 828.99 1017.40 826.57 1017.40 824.14 1016.59 823.34 1015.79 822.53 1014.17M849.98 1000.44L841.91 1017.40M838.68 1000.44L849.98 1000.44M862.09 1003.67L862.09 1017.40M855.63 1010.13L868.55 1010.13M855.63 1017.40L868.55 1017.40M891.96 1000.44L889.54 1001.25 887.93 1003.67 887.12 1007.71 887.12 1010.13 887.93 1014.17 889.54 1016.59 891.96 1017.40 893.58 1017.40 896.00 1016.59 897.62 1014.17 898.42 1010.13 898.42 1007.71 897.62 1003.67 896.00 1001.25 893.58 1000.44 891.96 1000.44M904.88 1015.79L904.08 1016.59 904.88 1017.40 905.69 1016.59 904.88 1015.79M915.38 1000.44L912.96 1001.25 912.15 1002.87 912.15 1004.48 912.96 1006.10 914.57 1006.90 917.80 1007.71 920.22 1008.52 921.84 1010.13 922.65 1011.75 922.65 1014.17 921.84 1015.79 921.03 1016.59 918.61 1017.40 915.38 1017.40 912.96 1016.59 912.15 1015.79 911.34 1014.17 911.34 1011.75 912.15 1010.13 913.76 1008.52 916.19 1007.71 919.42 1006.90 921.03 1006.10 921.84 1004.48 921.84 1002.87 921.03 1001.25 918.61 1000.44 915.38 1000.44M929.11 1000.44L937.99 1000.44 933.14 1006.90 935.56 1006.90 937.18 1007.71 937.99 1008.52 938.79 1010.94 938.79 1012.56 937.99 1014.98 936.37 1016.59 933.95 1017.40 931.53 1017.40 929.11 1016.59 928.30 1015.79 927.49 1014.17M944.45 1000.44L944.45 1006.10M950.90 1000.44L950.90 1006.10M690.11 1066.10L691.73 1066.10 693.34 1067.71 698.19 1081.44 699.80 1083.05 701.42 1083.05M702.23 1066.10L701.42 1067.71 699.80 1070.13 691.73 1079.01 690.11 1081.44 689.31 1083.05M705.46 1054.79L705.46 1054.19 706.06 1052.98 706.67 1052.37 707.88 1051.77 710.30 1051.77 711.51 1052.37 712.12 1052.98 712.72 1054.19 712.72 1055.40 712.12 1056.61 710.91 1058.43 704.85 1064.48 713.33 1064.48M718.37 1067.71L732.91 1067.71M718.37 1072.56L732.91 1072.56M740.17 1060.44L749.05 1060.44 744.21 1066.90 746.63 1066.90 748.25 1067.71 749.05 1068.52 749.86 1070.94 749.86 1072.56 749.05 1074.98 747.44 1076.59 745.02 1077.40 742.60 1077.40 740.17 1076.59 739.37 1075.79 738.56 1074.17M765.20 1062.87L764.40 1061.25 761.97 1060.44 760.36 1060.44 757.94 1061.25 756.32 1063.67 755.51 1067.71 755.51 1071.75 756.32 1074.98 757.94 1076.59 760.36 1077.40 761.17 1077.40 763.59 1076.59 765.20 1074.98 766.01 1072.56 766.01 1071.75 765.20 1069.33 763.59 1067.71 761.17 1066.90 760.36 1066.90 757.94 1067.71 756.32 1069.33 755.51 1071.75M772.47 1075.79L771.66 1076.59 772.47 1077.40 773.28 1076.59 772.47 1075.79M789.42 1066.10L788.62 1068.52 787.00 1070.13 784.58 1070.94 783.77 1070.94 781.35 1070.13 779.74 1068.52 778.93 1066.10 778.93 1065.29 779.74 1062.87 781.35 1061.25 783.77 1060.44 784.58 1060.44 787.00 1061.25 788.62 1062.87 789.42 1066.10 789.42 1070.13 788.62 1074.17 787.00 1076.59 784.58 1077.40 782.97 1077.40 780.54 1076.59 779.74 1074.98M805.57 1066.10L804.77 1068.52 803.15 1070.13 800.73 1070.94 799.92 1070.94 797.50 1070.13 795.88 1068.52 795.08 1066.10 795.08 1065.29 795.88 1062.87 797.50 1061.25 799.92 1060.44 800.73 1060.44 803.15 1061.25 804.77 1062.87 805.57 1066.10 805.57 1070.13 804.77 1074.17 803.15 1076.59 800.73 1077.40 799.11 1077.40 796.69 1076.59 795.88 1074.98M813.65 1063.67L815.26 1062.87 817.68 1060.44 817.68 1077.40M846.75 1057.22L845.14 1058.83 843.52 1061.25 841.91 1064.48 841.10 1068.52 841.10 1071.75 841.91 1075.79 843.52 1079.01 845.14 1081.44 846.75 1083.05M852.40 1060.44L852.40 1077.40M852.40 1060.44L863.71 1077.40M863.71 1060.44L863.71 1077.40M879.05 1060.44L879.05 1077.40M879.05 1068.52L877.43 1066.90 875.82 1066.10 873.39 1066.10 871.78 1066.90 870.16 1068.52 869.36 1070.94 869.36 1072.56 870.16 1074.98 871.78 1076.59 873.39 1077.40 875.82 1077.40 877.43 1076.59 879.05 1074.98M885.51 1060.44L885.51 1077.40M885.51 1060.44L896.00 1060.44M885.51 1068.52L891.96 1068.52M900.04 1067.71L914.57 1067.71M900.04 1072.56L914.57 1072.56M921.84 1060.44L930.72 1060.44 925.88 1066.90 928.30 1066.90 929.91 1067.71 930.72 1068.52 931.53 1070.94 931.53 1072.56 930.72 1074.98 929.11 1076.59 926.68 1077.40 924.26 1077.40 921.84 1076.59 921.03 1075.79 920.22 1074.17M946.06 1060.44L937.99 1060.44 937.18 1067.71 937.99 1066.90 940.41 1066.10 942.83 1066.10 945.25 1066.90 946.87 1068.52 947.68 1070.94 947.68 1072.56 946.87 1074.98 945.25 1076.59 942.83 1077.40 940.41 1077.40 937.99 1076.59 937.18 1075.79 936.37 1074.17M952.52 1057.22L954.13 1058.83 955.75 1061.25 957.36 1064.48 958.17 1068.52 958.17 1071.75 957.36 1075.79 955.75 1079.01 954.13 1081.44 952.52 1083.05"/>
<path stroke-width="2.90" d="M1192.5 157.4H1507.5V1117.4H1192.5ZM1203.00 1117.40V1111.40M1203.00 157.40V163.40M1224.00 1117.40V1111.40M1224.00 157.40V163.40M1245.00 1117.40V1105.40M1245.00 157.40V169.40M1266.00 1117.40V1111.40M1266.00 157.40V163.40M1287.00 1117.40V1111.40M1287.00 157.40V163.40M1308.00 1117.40V1111.40M1308.00 157.40V163.40M1329.00 1117.40V1111.40M1329.00 157.40V163.40M1350.00 1117.40V1105.40M1350.00 157.40V169.40M1371.00 1117.40V1111.40M1371.00 157.40V163.40M1392.00 1117.40V1111.40M1392.00 157.40V163.40M1413.00 1117.40V1111.40M1413.00 157.40V163.40M1434.00 1117.40V1111.40M1434.00 157.40V163.40M1455.00 1117.40V1105.40M1455.00 157.40V169.40M1476.00 1117.40V1111.40M1476.00 157.40V163.40M1497.00 1117.40V1111.40M1497.00 157.40V163.40M1192.50 1037.40H1198.50M1507.50 1037.40H1501.50M1192.50 957.40H1204.50M1507.50 957.40H1495.50M1192.50 877.40H1198.50M1507.50 877.40H1501.50M1192.50 797.40H1204.50M1507.50 797.40H1495.50M1192.50 717.40H1198.50M1507.50 717.40H1501.50M1192.50 637.40H1204.50M1507.50 637.40H1495.50M1192.50 557.40H1198.50M1507.50 557.40H1501.50M1192.50 477.40H1204.50M1507.50 477.40H1495.50M1192.50 397.40H1198.50M1507.50 397.40H1501.50M1192.50 317.40H1204.50M1507.50 317.40H1495.50M1192.50 237.40H1198.50M1507.50 237.40H1501.50"/>
<path stroke-width="3.00" d="M1154.21 88.14L1147.75 105.10M1154.21 88.14L1160.66 105.10M1150.17 99.45L1158.24 99.45M1164.70 93.80L1164.70 105.10M1164.70 98.64L1165.51 96.22 1167.12 94.60 1168.74 93.80 1171.16 93.80M1175.20 93.80L1175.20 105.10M1175.20 98.64L1176.01 96.22 1177.62 94.60 1179.23 93.80 1181.66 93.80M1194.58 93.80L1194.58 105.10M1194.58 96.22L1192.96 94.60 1191.35 93.80 1188.92 93.80 1187.31 94.60 1185.69 96.22 1184.89 98.64 1184.89 100.26 1185.69 102.68 1187.31 104.29 1188.92 105.10 1191.35 105.10 1192.96 104.29 1194.58 102.68M1199.42 93.80L1204.26 105.10M1209.11 93.80L1204.26 105.10 1202.65 108.33 1201.03 109.94 1199.42 110.75 1198.61 110.75M1214.76 88.14L1223.64 88.14 1218.80 94.60 1221.22 94.60 1222.83 95.41 1223.64 96.22 1224.45 98.64 1224.45 100.26 1223.64 102.68 1222.03 104.29 1219.60 105.10 1217.18 105.10 1214.76 104.29 1213.95 103.49 1213.15 101.87M1243.02 88.14L1243.02 105.10M1243.02 96.22L1244.63 94.60 1246.25 93.80 1248.67 93.80 1250.29 94.60 1251.90 96.22 1252.71 98.64 1252.71 100.26 1251.90 102.68 1250.29 104.29 1248.67 105.10 1246.25 105.10 1244.63 104.29 1243.02 102.68M1257.55 98.64L1267.24 98.64 1267.24 97.03 1266.43 95.41 1265.63 94.60 1264.01 93.80 1261.59 93.80 1259.97 94.60 1258.36 96.22 1257.55 98.64 1257.55 100.26 1258.36 102.68 1259.97 104.29 1261.59 105.10 1264.01 105.10 1265.63 104.29 1267.24 102.68M1281.77 93.80L1281.77 105.10M1281.77 96.22L1280.16 94.60 1278.55 93.80 1276.12 93.80 1274.51 94.60 1272.89 96.22 1272.09 98.64 1272.09 100.26 1272.89 102.68 1274.51 104.29 1276.12 105.10 1278.55 105.10 1280.16 104.29 1281.77 102.68M1288.23 93.80L1288.23 105.10M1288.23 97.03L1290.66 94.60 1292.27 93.80 1294.69 93.80 1296.31 94.60 1297.12 97.03 1297.12 105.10M1297.12 97.03L1299.54 94.60 1301.15 93.80 1303.57 93.80 1305.19 94.60 1306.00 97.03 1306.00 105.10M1326.18 93.80L1325.37 94.60 1326.18 95.41 1326.99 94.60 1326.18 93.80M1326.18 103.49L1325.37 104.29 1326.18 105.10 1326.99 104.29 1326.18 103.49M1347.17 88.14L1356.06 88.14 1351.21 94.60 1353.63 94.60 1355.25 95.41 1356.06 96.22 1356.86 98.64 1356.86 100.26 1356.06 102.68 1354.44 104.29 1352.02 105.10 1349.60 105.10 1347.17 104.29 1346.37 103.49 1345.56 101.87M1373.82 92.18L1373.01 90.57 1371.40 88.95 1369.78 88.14 1366.55 88.14 1364.94 88.95 1363.32 90.57 1362.51 92.18 1361.71 94.60 1361.71 98.64 1362.51 101.06 1363.32 102.68 1364.94 104.29 1366.55 105.10 1369.78 105.10 1371.40 104.29 1373.01 102.68 1373.82 101.06M1382.70 88.14L1380.28 88.95 1379.47 90.57 1379.47 92.18 1380.28 93.80 1381.89 94.60 1385.12 95.41 1387.54 96.22 1389.16 97.83 1389.97 99.45 1389.97 101.87 1389.16 103.49 1388.35 104.29 1385.93 105.10 1382.70 105.10 1380.28 104.29 1379.47 103.49 1378.66 101.87 1378.66 99.45 1379.47 97.83 1381.08 96.22 1383.51 95.41 1386.74 94.60 1388.35 93.80 1389.16 92.18 1389.16 90.57 1388.35 88.95 1385.93 88.14 1382.70 88.14M1402.88 88.14L1394.81 99.45 1406.92 99.45M1402.88 88.14L1402.88 105.10M1424.68 88.14L1424.68 105.10M1424.68 88.14L1435.99 105.10M1435.99 88.14L1435.99 105.10M1445.68 93.80L1444.06 94.60 1442.45 96.22 1441.64 98.64 1441.64 100.26 1442.45 102.68 1444.06 104.29 1445.68 105.10 1448.10 105.10 1449.71 104.29 1451.33 102.68 1452.14 100.26 1452.14 98.64 1451.33 96.22 1449.71 94.60 1448.10 93.80 1445.68 93.80M1456.17 93.80L1461.02 105.10M1465.86 93.80L1461.02 105.10M1471.51 103.49L1470.71 104.29 1471.51 105.10 1472.32 104.29 1471.51 103.49M1491.70 92.18L1491.70 91.37 1492.51 89.76 1493.31 88.95 1494.93 88.14 1498.16 88.14 1499.77 88.95 1500.58 89.76 1501.39 91.37 1501.39 92.99 1500.58 94.60 1498.97 97.03 1490.89 105.10 1502.19 105.10M1511.88 88.14L1509.46 88.95 1507.85 91.37 1507.04 95.41 1507.04 97.83 1507.85 101.87 1509.46 104.29 1511.88 105.10 1513.50 105.10 1515.92 104.29 1517.54 101.87 1518.34 97.83 1518.34 95.41 1517.54 91.37 1515.92 88.95 1513.50 88.14 1511.88 88.14M1525.61 91.37L1527.22 90.57 1529.65 88.14 1529.65 105.10M1549.02 88.14L1540.95 88.14 1540.14 95.41 1540.95 94.60 1543.37 93.80 1545.79 93.80 1548.22 94.60 1549.83 96.22 1550.64 98.64 1550.64 100.26 1549.83 102.68 1548.22 104.29 1545.79 105.10 1543.37 105.10 1540.95 104.29 1540.14 103.49 1539.34 101.87M1256.75 1194.94L1266.43 1194.94 1266.43 1193.33 1265.63 1191.71 1264.82 1190.90 1263.20 1190.10 1260.78 1190.10 1259.17 1190.90 1257.55 1192.52 1256.75 1194.94 1256.75 1196.56 1257.55 1198.98 1259.17 1200.59 1260.78 1201.40 1263.20 1201.40 1264.82 1200.59 1266.43 1198.98M1272.09 1184.44L1272.09 1201.40M1277.74 1194.94L1287.43 1194.94 1287.43 1193.33 1286.62 1191.71 1285.81 1190.90 1284.20 1190.10 1281.77 1190.10 1280.16 1190.90 1278.55 1192.52 1277.74 1194.94 1277.74 1196.56 1278.55 1198.98 1280.16 1200.59 1281.77 1201.40 1284.20 1201.40 1285.81 1200.59 1287.43 1198.98M1291.46 1190.10L1296.31 1201.40M1301.15 1190.10L1296.31 1201.40M1314.88 1190.10L1314.88 1201.40M1314.88 1192.52L1313.26 1190.90 1311.65 1190.10 1309.23 1190.10 1307.61 1190.90 1306.00 1192.52 1305.19 1194.94 1305.19 1196.56 1306.00 1198.98 1307.61 1200.59 1309.23 1201.40 1311.65 1201.40 1313.26 1200.59 1314.88 1198.98M1322.14 1184.44L1322.14 1198.17 1322.95 1200.59 1324.57 1201.40 1326.18 1201.40M1319.72 1190.10L1325.37 1190.10M1330.22 1184.44L1331.03 1185.25 1331.83 1184.44 1331.03 1183.64 1330.22 1184.44M1331.03 1190.10L1331.03 1201.40M1340.71 1190.10L1339.10 1190.90 1337.49 1192.52 1336.68 1194.94 1336.68 1196.56 1337.49 1198.98 1339.10 1200.59 1340.71 1201.40 1343.14 1201.40 1344.75 1200.59 1346.37 1198.98 1347.17 1196.56 1347.17 1194.94 1346.37 1192.52 1344.75 1190.90 1343.14 1190.10 1340.71 1190.10M1352.83 1190.10L1352.83 1201.40M1352.83 1193.33L1355.25 1190.90 1356.86 1190.10 1359.29 1190.10 1360.90 1190.90 1361.71 1193.33 1361.71 1201.40M1386.74 1181.22L1385.12 1182.83 1383.51 1185.25 1381.89 1188.48 1381.08 1192.52 1381.08 1195.75 1381.89 1199.79 1383.51 1203.01 1385.12 1205.44 1386.74 1207.05M1401.27 1184.44L1401.27 1201.40M1401.27 1192.52L1399.66 1190.90 1398.04 1190.10 1395.62 1190.10 1394.00 1190.90 1392.39 1192.52 1391.58 1194.94 1391.58 1196.56 1392.39 1198.98 1394.00 1200.59 1395.62 1201.40 1398.04 1201.40 1399.66 1200.59 1401.27 1198.98M1406.92 1194.94L1416.61 1194.94 1416.61 1193.33 1415.80 1191.71 1415.00 1190.90 1413.38 1190.10 1410.96 1190.10 1409.34 1190.90 1407.73 1192.52 1406.92 1194.94 1406.92 1196.56 1407.73 1198.98 1409.34 1200.59 1410.96 1201.40 1413.38 1201.40 1415.00 1200.59 1416.61 1198.98M1431.14 1190.10L1431.14 1203.01 1430.34 1205.44 1429.53 1206.24 1427.91 1207.05 1425.49 1207.05 1423.88 1206.24M1431.14 1192.52L1429.53 1190.90 1427.91 1190.10 1425.49 1190.10 1423.88 1190.90 1422.26 1192.52 1421.45 1194.94 1421.45 1196.56 1422.26 1198.98 1423.88 1200.59 1425.49 1201.40 1427.91 1201.40 1429.53 1200.59 1431.14 1198.98M1436.80 1181.22L1438.41 1182.83 1440.03 1185.25 1441.64 1188.48 1442.45 1192.52 1442.45 1195.75 1441.64 1199.79 1440.03 1203.01 1438.41 1205.44 1436.80 1207.05M1240.96 1131.74L1232.89 1131.74 1232.08 1139.01 1232.89 1138.20 1235.31 1137.40 1237.73 1137.40 1240.16 1138.20 1241.77 1139.82 1242.58 1142.24 1242.58 1143.86 1241.77 1146.28 1240.16 1147.89 1237.73 1148.70 1235.31 1148.70 1232.89 1147.89 1232.08 1147.09 1231.27 1145.47M1252.27 1131.74L1249.84 1132.55 1248.23 1134.97 1247.42 1139.01 1247.42 1141.43 1248.23 1145.47 1249.84 1147.89 1252.27 1148.70 1253.88 1148.70 1256.30 1147.89 1257.92 1145.47 1258.73 1141.43 1258.73 1139.01 1257.92 1134.97 1256.30 1132.55 1253.88 1131.74 1252.27 1131.74M1346.77 1134.17L1345.96 1132.55 1343.54 1131.74 1341.93 1131.74 1339.50 1132.55 1337.89 1134.97 1337.08 1139.01 1337.08 1143.05 1337.89 1146.28 1339.50 1147.89 1341.93 1148.70 1342.73 1148.70 1345.16 1147.89 1346.77 1146.28 1347.58 1143.86 1347.58 1143.05 1346.77 1140.63 1345.16 1139.01 1342.73 1138.20 1341.93 1138.20 1339.50 1139.01 1337.89 1140.63 1337.08 1143.05M1357.27 1131.74L1354.84 1132.55 1353.23 1134.97 1352.42 1139.01 1352.42 1141.43 1353.23 1145.47 1354.84 1147.89 1357.27 1148.70 1358.88 1148.70 1361.30 1147.89 1362.92 1145.47 1363.73 1141.43 1363.73 1139.01 1362.92 1134.97 1361.30 1132.55 1358.88 1131.74 1357.27 1131.74M1452.58 1131.74L1444.50 1148.70M1441.27 1131.74L1452.58 1131.74M1462.27 1131.74L1459.84 1132.55 1458.23 1134.97 1457.42 1139.01 1457.42 1141.43 1458.23 1145.47 1459.84 1147.89 1462.27 1148.70 1463.88 1148.70 1466.30 1147.89 1467.92 1145.47 1468.73 1141.43 1468.73 1139.01 1467.92 1134.97 1466.30 1132.55 1463.88 1131.74 1462.27 1131.74M1160.47 1128.70L1159.67 1127.09 1157.24 1124.67 1174.20 1124.67M1157.24 1110.13L1158.05 1112.56 1160.47 1114.17 1164.51 1114.98 1166.93 1114.98 1170.97 1114.17 1173.39 1112.56 1174.20 1110.13 1174.20 1108.52 1173.39 1106.10 1170.97 1104.48 1166.93 1103.67 1164.51 1103.67 1160.47 1104.48 1158.05 1106.10 1157.24 1108.52 1157.24 1110.13M1160.47 968.70L1159.67 967.09 1157.24 964.67 1174.20 964.67M1161.28 954.17L1160.47 954.17 1158.86 953.36 1158.05 952.56 1157.24 950.94 1157.24 947.71 1158.05 946.10 1158.86 945.29 1160.47 944.48 1162.09 944.48 1163.70 945.29 1166.13 946.90 1174.20 954.98 1174.20 943.67M1160.47 808.70L1159.67 807.09 1157.24 804.67 1174.20 804.67M1157.24 786.90L1168.55 794.98 1168.55 782.87M1157.24 786.90L1174.20 786.90M1160.47 648.70L1159.67 647.09 1157.24 644.67 1174.20 644.67M1159.67 624.48L1158.05 625.29 1157.24 627.71 1157.24 629.33 1158.05 631.75 1160.47 633.36 1164.51 634.17 1168.55 634.17 1171.78 633.36 1173.39 631.75 1174.20 629.33 1174.20 628.52 1173.39 626.10 1171.78 624.48 1169.36 623.67 1168.55 623.67 1166.13 624.48 1164.51 626.10 1163.70 628.52 1163.70 629.33 1164.51 631.75 1166.13 633.36 1168.55 634.17M1160.47 488.70L1159.67 487.09 1157.24 484.67 1174.20 484.67M1157.24 470.94L1158.05 473.36 1159.67 474.17 1161.28 474.17 1162.90 473.36 1163.70 471.75 1164.51 468.52 1165.32 466.10 1166.93 464.48 1168.55 463.67 1170.97 463.67 1172.59 464.48 1173.39 465.29 1174.20 467.71 1174.20 470.94 1173.39 473.36 1172.59 474.17 1170.97 474.98 1168.55 474.98 1166.93 474.17 1165.32 472.56 1164.51 470.13 1163.70 466.90 1162.90 465.29 1161.28 464.48 1159.67 464.48 1158.05 465.29 1157.24 467.71 1157.24 470.94M1161.28 330.32L1160.47 330.32 1158.86 329.51 1158.05 328.70 1157.24 327.09 1157.24 323.86 1158.05 322.24 1158.86 321.44 1160.47 320.63 1162.09 320.63 1163.70 321.44 1166.13 323.05 1174.20 331.13 1174.20 319.82M1157.24 310.13L1158.05 312.56 1160.47 314.17 1164.51 314.98 1166.93 314.98 1170.97 314.17 1173.39 312.56 1174.20 310.13 1174.20 308.52 1173.39 306.10 1170.97 304.48 1166.93 303.67 1164.51 303.67 1160.47 304.48 1158.05 306.10 1157.24 308.52 1157.24 310.13M1161.28 170.32L1160.47 170.32 1158.86 169.51 1158.05 168.70 1157.24 167.09 1157.24 163.86 1158.05 162.24 1158.86 161.44 1160.47 160.63 1162.09 160.63 1163.70 161.44 1166.13 163.05 1174.20 171.13 1174.20 159.82M1161.28 154.17L1160.47 154.17 1158.86 153.36 1158.05 152.56 1157.24 150.94 1157.24 147.71 1158.05 146.10 1158.86 145.29 1160.47 144.48 1162.09 144.48 1163.70 145.29 1166.13 146.90 1174.20 154.98 1174.20 143.67M1117.64 729.04L1134.60 729.04M1117.64 729.04L1117.64 718.54M1125.72 729.04L1125.72 722.58M1117.64 716.12L1134.60 712.08M1117.64 708.05L1134.60 712.08M1117.64 708.05L1134.60 704.01M1117.64 699.97L1134.60 704.01M1117.64 695.13L1134.60 695.13M1117.64 683.83L1134.60 683.83M1125.72 695.13L1125.72 683.83M1117.64 677.37L1134.60 677.37M1117.64 677.37L1134.60 670.91M1117.64 664.45L1134.60 670.91M1117.64 664.45L1134.60 664.45M1114.41 639.42L1116.03 641.03 1118.45 642.65 1121.68 644.26 1125.72 645.07 1128.95 645.07 1132.99 644.26 1136.21 642.65 1138.64 641.03 1140.25 639.42M1123.30 624.89L1134.60 624.89M1125.72 624.89L1124.10 626.50 1123.30 628.11 1123.30 630.54 1124.10 632.15 1125.72 633.77 1128.14 634.57 1129.76 634.57 1132.18 633.77 1133.79 632.15 1134.60 630.54 1134.60 628.11 1133.79 626.50 1132.18 624.89M1123.30 618.43L1134.60 618.43M1128.14 618.43L1125.72 617.62 1124.10 616.00 1123.30 614.39 1123.30 611.97M1125.72 599.05L1124.10 600.66 1123.30 602.28 1123.30 604.70 1124.10 606.32 1125.72 607.93 1128.14 608.74 1129.76 608.74 1132.18 607.93 1133.79 606.32 1134.60 604.70 1134.60 602.28 1133.79 600.66 1132.18 599.05M1125.72 585.32L1124.10 586.13 1123.30 588.55 1123.30 590.97 1124.10 593.40 1125.72 594.20 1127.33 593.40 1128.14 591.78 1128.95 587.74 1129.76 586.13 1131.37 585.32 1132.18 585.32 1133.79 586.13 1134.60 588.55 1134.60 590.97 1133.79 593.40 1132.18 594.20M1128.14 580.48L1128.14 570.79 1126.53 570.79 1124.91 571.60 1124.10 572.40 1123.30 574.02 1123.30 576.44 1124.10 578.06 1125.72 579.67 1128.14 580.48 1129.76 580.48 1132.18 579.67 1133.79 578.06 1134.60 576.44 1134.60 574.02 1133.79 572.40 1132.18 570.79M1125.72 556.26L1124.10 557.87 1123.30 559.49 1123.30 561.91 1124.10 563.52 1125.72 565.14 1128.14 565.95 1129.76 565.95 1132.18 565.14 1133.79 563.52 1134.60 561.91 1134.60 559.49 1133.79 557.87 1132.18 556.26M1114.41 551.41L1116.03 549.80 1118.45 548.18 1121.68 546.57 1125.72 545.76 1128.95 545.76 1132.99 546.57 1136.21 548.18 1138.64 549.80 1140.25 551.41M1219.15 186.10L1214.31 203.05M1218.34 189.33L1217.54 193.36 1217.54 195.79 1219.15 197.40 1220.77 197.40 1222.38 196.59 1224.00 194.98 1225.61 191.75M1227.23 186.10L1225.61 191.75 1224.80 194.98 1224.80 196.59 1225.61 197.40 1227.23 197.40 1228.84 195.79 1229.65 194.17M1232.88 194.37L1232.88 207.09M1232.88 194.37L1240.75 194.37M1232.88 200.43L1237.72 200.43M1242.57 194.37L1245.59 207.09M1248.62 194.37L1245.59 207.09M1248.62 194.37L1251.65 207.09M1254.68 194.37L1251.65 207.09M1258.31 194.37L1258.31 207.09M1266.79 194.37L1266.79 207.09M1258.31 200.43L1266.79 200.43M1271.63 194.37L1271.63 207.09M1271.63 194.37L1276.48 207.09M1281.32 194.37L1276.48 207.09M1281.32 194.37L1281.32 207.09M1286.97 187.71L1301.51 187.71M1286.97 192.56L1301.51 192.56M1309.58 183.67L1311.20 182.87 1313.62 180.44 1313.62 197.40M1325.73 183.67L1327.34 182.87 1329.77 180.44 1329.77 197.40M1341.07 195.79L1340.26 196.59 1341.07 197.40 1341.88 196.59 1341.07 195.79M1358.02 186.10L1357.22 188.52 1355.60 190.13 1353.18 190.94 1352.37 190.94 1349.95 190.13 1348.34 188.52 1347.53 186.10 1347.53 185.29 1348.34 182.87 1349.95 181.25 1352.37 180.44 1353.18 180.44 1355.60 181.25 1357.22 182.87 1358.02 186.10 1358.02 190.13 1357.22 194.17 1355.60 196.59 1353.18 197.40 1351.57 197.40 1349.14 196.59 1348.34 194.98M1368.52 180.44L1366.10 181.25 1364.48 183.67 1363.68 187.71 1363.68 190.13 1364.48 194.17 1366.10 196.59 1368.52 197.40 1370.14 197.40 1372.56 196.59 1374.17 194.17 1374.98 190.13 1374.98 187.71 1374.17 183.67 1372.56 181.25 1370.14 180.44 1368.52 180.44M1387.09 183.67L1387.09 197.40M1380.63 190.13L1393.55 190.13M1380.63 197.40L1393.55 197.40M1416.96 180.44L1414.54 181.25 1412.93 183.67 1412.12 187.71 1412.12 190.13 1412.93 194.17 1414.54 196.59 1416.96 197.40 1418.58 197.40 1421.00 196.59 1422.62 194.17 1423.42 190.13 1423.42 187.71 1422.62 183.67 1421.00 181.25 1418.58 180.44 1416.96 180.44M1429.88 195.79L1429.08 196.59 1429.88 197.40 1430.69 196.59 1429.88 195.79M1447.65 180.44L1439.57 197.40M1436.34 180.44L1447.65 180.44M1454.91 183.67L1456.53 182.87 1458.95 180.44 1458.95 197.40M1469.45 180.44L1469.45 186.10M1475.90 180.44L1475.90 186.10M1215.11 246.10L1216.73 246.10 1218.34 247.71 1223.19 261.44 1224.80 263.05 1226.42 263.05M1227.23 246.10L1226.42 247.71 1224.80 250.13 1216.73 259.01 1215.11 261.44 1214.31 263.05M1230.46 234.79L1230.46 234.19 1231.06 232.98 1231.67 232.37 1232.88 231.77 1235.30 231.77 1236.51 232.37 1237.12 232.98 1237.72 234.19 1237.72 235.40 1237.12 236.61 1235.91 238.43 1229.85 244.48 1238.33 244.48M1243.37 247.71L1257.91 247.71M1243.37 252.56L1257.91 252.56M1265.17 240.44L1274.06 240.44 1269.21 246.90 1271.63 246.90 1273.25 247.71 1274.06 248.52 1274.86 250.94 1274.86 252.56 1274.06 254.98 1272.44 256.59 1270.02 257.40 1267.60 257.40 1265.17 256.59 1264.37 255.79 1263.56 254.17M1291.01 240.44L1282.94 257.40M1279.71 240.44L1291.01 240.44M1297.47 255.79L1296.66 256.59 1297.47 257.40 1298.28 256.59 1297.47 255.79M1308.77 240.44L1306.35 241.25 1304.74 243.67 1303.93 247.71 1303.93 250.13 1304.74 254.17 1306.35 256.59 1308.77 257.40 1310.39 257.40 1312.81 256.59 1314.42 254.17 1315.23 250.13 1315.23 247.71 1314.42 243.67 1312.81 241.25 1310.39 240.44 1308.77 240.44M1324.92 240.44L1322.50 241.25 1320.88 243.67 1320.08 247.71 1320.08 250.13 1320.88 254.17 1322.50 256.59 1324.92 257.40 1326.54 257.40 1328.96 256.59 1330.57 254.17 1331.38 250.13 1331.38 247.71 1330.57 243.67 1328.96 241.25 1326.54 240.44 1324.92 240.44M1338.65 243.67L1340.26 242.87 1342.68 240.44 1342.68 257.40M1371.75 237.21L1370.14 238.83 1368.52 241.25 1366.91 244.48 1366.10 248.52 1366.10 251.75 1366.91 255.79 1368.52 259.01 1370.14 261.44 1371.75 263.05M1377.40 240.44L1377.40 257.40M1377.40 240.44L1388.71 257.40M1388.71 240.44L1388.71 257.40M1404.05 240.44L1404.05 257.40M1404.05 248.52L1402.43 246.90 1400.82 246.10 1398.39 246.10 1396.78 246.90 1395.16 248.52 1394.36 250.94 1394.36 252.56 1395.16 254.98 1396.78 256.59 1398.39 257.40 1400.82 257.40 1402.43 256.59 1404.05 254.98M1410.51 240.44L1410.51 257.40M1410.51 240.44L1421.00 240.44M1410.51 248.52L1416.96 248.52M1425.04 247.71L1439.57 247.71M1425.04 252.56L1439.57 252.56M1446.84 240.44L1455.72 240.44 1450.88 246.90 1453.30 246.90 1454.91 247.71 1455.72 248.52 1456.53 250.94 1456.53 252.56 1455.72 254.98 1454.11 256.59 1451.68 257.40 1449.26 257.40 1446.84 256.59 1446.03 255.79 1445.22 254.17M1471.06 240.44L1462.99 240.44 1462.18 247.71 1462.99 246.90 1465.41 246.10 1467.83 246.10 1470.25 246.90 1471.87 248.52 1472.68 250.94 1472.68 252.56 1471.87 254.98 1470.25 256.59 1467.83 257.40 1465.41 257.40 1462.99 256.59 1462.18 255.79 1461.37 254.17M1477.52 237.21L1479.13 238.83 1480.75 241.25 1482.36 244.48 1483.17 248.52 1483.17 251.75 1482.36 255.79 1480.75 259.01 1479.13 261.44 1477.52 263.05"/>
</g>
<g fill="none" stroke-linecap="round" stroke-linejoin="round" stroke-width="3.9">
<path stroke="#d90000" d="M172.38 306.10L169.96 317.40M165.11 308.52L166.73 306.90 169.15 306.10 178.03 306.10M184.49 314.37L184.49 327.09M180.25 314.37L188.73 314.37M194.79 314.37L189.94 327.09M194.79 314.37L199.63 327.09M191.76 322.85L197.81 322.85M202.66 314.37L202.66 327.09M202.66 314.37L208.11 314.37 209.93 314.98 210.53 315.58 211.14 316.79 211.14 318.61 210.53 319.82 209.93 320.43 208.11 321.03 202.66 321.03M218.40 314.37L213.56 327.09M218.40 314.37L223.25 327.09M215.38 322.85L221.43 322.85M234.15 316.19L232.94 314.98 231.12 314.37 228.70 314.37 226.88 314.98 225.67 316.19 225.67 317.40 226.28 318.61 226.88 319.22 228.09 319.82 231.73 321.03 232.94 321.64 233.54 322.24 234.15 323.46 234.15 325.27 232.94 326.48 231.12 327.09 228.70 327.09 226.88 326.48 225.67 325.27M265.03 302.87L252.11 310.13 265.03 317.40M288.45 300.44L286.02 301.25 284.41 303.67 283.60 307.71 283.60 310.13 284.41 314.17 286.02 316.59 288.45 317.40 290.06 317.40 292.48 316.59 294.10 314.17 294.90 310.13 294.90 307.71 294.10 303.67 292.48 301.25 290.06 300.44 288.45 300.44M301.36 315.79L300.56 316.59 301.36 317.40 302.17 316.59 301.36 315.79M315.90 300.44L307.82 311.75 319.93 311.75M315.90 300.44L315.90 317.40"/>
<path stroke="#8cff32" d="M170.77 340.44L168.34 341.25 166.73 343.67 165.92 347.71 165.92 350.13 166.73 354.17 168.34 356.59 170.77 357.40 172.38 357.40 174.80 356.59 176.42 354.17 177.23 350.13 177.23 347.71 176.42 343.67 174.80 341.25 172.38 340.44 170.77 340.44M183.69 355.79L182.88 356.59 183.69 357.40 184.49 356.59 183.69 355.79M198.22 340.44L190.14 351.75 202.26 351.75M198.22 340.44L198.22 357.40M232.94 342.87L220.02 350.13 232.94 357.40M257.97 346.10L255.54 357.40M250.70 348.52L252.31 346.90 254.74 346.10 263.62 346.10M294.30 342.87L281.38 350.13 294.30 357.40M317.71 340.44L315.29 341.25 313.68 343.67 312.87 347.71 312.87 350.13 313.68 354.17 315.29 356.59 317.71 357.40 319.33 357.40 321.75 356.59 323.37 354.17 324.17 350.13 324.17 347.71 323.37 343.67 321.75 341.25 319.33 340.44 317.71 340.44M330.63 355.79L329.82 356.59 330.63 357.40 331.44 356.59 330.63 355.79M346.78 340.44L338.71 340.44 337.90 347.71 338.71 346.90 341.13 346.10 343.55 346.10 345.97 346.90 347.59 348.52 348.39 350.94 348.39 352.56 347.59 354.98 345.97 356.59 343.55 357.40 341.13 357.40 338.71 356.59 337.90 355.79 337.09 354.17"/>
<path stroke="#0000ff" d="M170.77 380.44L168.34 381.25 166.73 383.67 165.92 387.71 165.92 390.13 166.73 394.17 168.34 396.59 170.77 397.40 172.38 397.40 174.80 396.59 176.42 394.17 177.23 390.13 177.23 387.71 176.42 383.67 174.80 381.25 172.38 380.44 170.77 380.44M183.69 395.79L182.88 396.59 183.69 397.40 184.49 396.59 183.69 395.79M199.83 380.44L191.76 380.44 190.95 387.71 191.76 386.90 194.18 386.10 196.60 386.10 199.03 386.90 200.64 388.52 201.45 390.94 201.45 392.56 200.64 394.98 199.03 396.59 196.60 397.40 194.18 397.40 191.76 396.59 190.95 395.79 190.14 394.17M232.94 382.87L220.02 390.13 232.94 397.40M257.97 386.10L255.54 397.40M250.70 388.52L252.31 386.90 254.74 386.10 263.62 386.10M294.30 382.87L281.38 390.13 294.30 397.40M317.71 380.44L315.29 381.25 313.68 383.67 312.87 387.71 312.87 390.13 313.68 394.17 315.29 396.59 317.71 397.40 319.33 397.40 321.75 396.59 323.37 394.17 324.17 390.13 324.17 387.71 323.37 383.67 321.75 381.25 319.33 380.44 317.71 380.44M330.63 395.79L329.82 396.59 330.63 397.40 331.44 396.59 330.63 395.79M347.59 382.87L346.78 381.25 344.36 380.44 342.74 380.44 340.32 381.25 338.71 383.67 337.90 387.71 337.90 391.75 338.71 394.98 340.32 396.59 342.74 397.40 343.55 397.40 345.97 396.59 347.59 394.98 348.39 392.56 348.39 391.75 347.59 389.33 345.97 387.71 343.55 386.90 342.74 386.90 340.32 387.71 338.71 389.33 337.90 391.75"/>
<path stroke="#8cffff" d="M170.77 420.44L168.34 421.25 166.73 423.67 165.92 427.71 165.92 430.13 166.73 434.17 168.34 436.59 170.77 437.40 172.38 437.40 174.80 436.59 176.42 434.17 177.23 430.13 177.23 427.71 176.42 423.67 174.80 421.25 172.38 420.44 170.77 420.44M183.69 435.79L182.88 436.59 183.69 437.40 184.49 436.59 183.69 435.79M200.64 422.87L199.83 421.25 197.41 420.44 195.80 420.44 193.37 421.25 191.76 423.67 190.95 427.71 190.95 431.75 191.76 434.98 193.37 436.59 195.80 437.40 196.60 437.40 199.03 436.59 200.64 434.98 201.45 432.56 201.45 431.75 200.64 429.33 199.03 427.71 196.60 426.90 195.80 426.90 193.37 427.71 191.76 429.33 190.95 431.75M232.94 422.87L220.02 430.13 232.94 437.40M257.97 426.10L255.54 437.40M250.70 428.52L252.31 426.90 254.74 426.10 263.62 426.10M294.30 422.87L281.38 430.13 294.30 437.40M317.71 420.44L315.29 421.25 313.68 423.67 312.87 427.71 312.87 430.13 313.68 434.17 315.29 436.59 317.71 437.40 319.33 437.40 321.75 436.59 323.37 434.17 324.17 430.13 324.17 427.71 323.37 423.67 321.75 421.25 319.33 420.44 317.71 420.44M330.63 435.79L329.82 436.59 330.63 437.40 331.44 436.59 330.63 435.79M348.39 420.44L340.32 437.40M337.09 420.44L348.39 420.44"/>
<path stroke="#e100ff" d="M170.77 460.44L168.34 461.25 166.73 463.67 165.92 467.71 165.92 470.13 166.73 474.17 168.34 476.59 170.77 477.40 172.38 477.40 174.80 476.59 176.42 474.17 177.23 470.13 177.23 467.71 176.42 463.67 174.80 461.25 172.38 460.44 170.77 460.44M183.69 475.79L182.88 476.59 183.69 477.40 184.49 476.59 183.69 475.79M201.45 460.44L193.37 477.40M190.14 460.44L201.45 460.44M232.94 462.87L220.02 470.13 232.94 477.40M257.97 466.10L255.54 477.40M250.70 468.52L252.31 466.90 254.74 466.10 263.62 466.10M294.30 462.87L281.38 470.13 294.30 477.40M317.71 460.44L315.29 461.25 313.68 463.67 312.87 467.71 312.87 470.13 313.68 474.17 315.29 476.59 317.71 477.40 319.33 477.40 321.75 476.59 323.37 474.17 324.17 470.13 324.17 467.71 323.37 463.67 321.75 461.25 319.33 460.44 317.71 460.44M330.63 475.79L329.82 476.59 330.63 477.40 331.44 476.59 330.63 475.79M341.13 460.44L338.71 461.25 337.90 462.87 337.90 464.48 338.71 466.10 340.32 466.90 343.55 467.71 345.97 468.52 347.59 470.13 348.39 471.75 348.39 474.17 347.59 475.79 346.78 476.59 344.36 477.40 341.13 477.40 338.71 476.59 337.90 475.79 337.09 474.17 337.09 471.75 337.90 470.13 339.51 468.52 341.94 467.71 345.17 466.90 346.78 466.10 347.59 464.48 347.59 462.87 346.78 461.25 344.36 460.44 341.13 460.44"/>
<path stroke="#e07f24" d="M172.38 506.10L169.96 517.40M165.11 508.52L166.73 506.90 169.15 506.10 178.03 506.10M195.80 502.87L208.71 510.13 195.80 517.40M232.13 500.44L229.71 501.25 228.09 503.67 227.28 507.71 227.28 510.13 228.09 514.17 229.71 516.59 232.13 517.40 233.74 517.40 236.17 516.59 237.78 514.17 238.59 510.13 238.59 507.71 237.78 503.67 236.17 501.25 233.74 500.44 232.13 500.44M245.05 515.79L244.24 516.59 245.05 517.40 245.85 516.59 245.05 515.79M255.54 500.44L253.12 501.25 252.31 502.87 252.31 504.48 253.12 506.10 254.74 506.90 257.97 507.71 260.39 508.52 262.00 510.13 262.81 511.75 262.81 514.17 262.00 515.79 261.20 516.59 258.77 517.40 255.54 517.40 253.12 516.59 252.31 515.79 251.51 514.17 251.51 511.75 252.31 510.13 253.93 508.52 256.35 507.71 259.58 506.90 261.20 506.10 262.00 504.48 262.00 502.87 261.20 501.25 258.77 500.44 255.54 500.44"/>
</g>
<g>
<circle cx="259.0" cy="785.5" r="5.45" fill="#0000ff"/>
<circle cx="225.4" cy="854.3" r="5.45" fill="#0000ff"/>
<circle cx="229.5" cy="911.8" r="5.45" fill="#e07f24"/>
<circle cx="221.2" cy="924.6" r="5.45" fill="#0000ff"/>
<circle cx="259.8" cy="912.4" r="5.45" fill="#e100ff"/>
<circle cx="264.2" cy="916.4" r="5.45" fill="#e100ff"/>
<circle cx="254.8" cy="922.7" r="5.45" fill="#8cffff"/>
<circle cx="197.1" cy="957.8" r="5.45" fill="#0000ff"/>
<circle cx="215.9" cy="965.4" r="5.45" fill="#0000ff"/>
<circle cx="225.3" cy="970.8" r="5.45" fill="#e07f24"/>
<circle cx="250.4" cy="955.7" r="5.45" fill="#8cffff"/>
<circle cx="213.8" cy="990.8" r="5.45" fill="#0000ff"/>
<circle cx="188.7" cy="1006.8" r="5.45" fill="#8cff32"/>
<circle cx="207.5" cy="1006.5" r="5.45" fill="#e07f24"/>
<circle cx="205.5" cy="1011.8" r="5.45" fill="#e07f24"/>
<circle cx="240.0" cy="1015.5" r="5.45" fill="#e100ff"/>
<circle cx="391.5" cy="894.1" r="5.45" fill="#e07f24"/>
<circle cx="343.1" cy="907.6" r="5.45" fill="#0000ff"/>
<circle cx="335.2" cy="913.3" r="5.45" fill="#0000ff"/>
<circle cx="338.7" cy="918.1" r="5.45" fill="#0000ff"/>
<circle cx="361.8" cy="912.4" r="5.45" fill="#e100ff"/>
<circle cx="370.4" cy="918.9" r="5.45" fill="#e07f24"/>
<circle cx="351.5" cy="926.1" r="5.45" fill="#0000ff"/>
<circle cx="312.4" cy="937.4" r="5.45" fill="#e100ff"/>
<circle cx="325.2" cy="934.9" r="5.45" fill="#8cffff"/>
<circle cx="302.2" cy="946.6" r="5.45" fill="#0000ff"/>
<circle cx="317.7" cy="952.5" r="5.45" fill="#e100ff"/>
<circle cx="346.3" cy="955.0" r="5.45" fill="#0000ff"/>
<circle cx="357.8" cy="948.4" r="5.45" fill="#d90000"/>
<circle cx="296.9" cy="999.3" r="5.45" fill="#0000ff"/>
<circle cx="298.8" cy="1000.5" r="5.45" fill="#0000ff"/>
<circle cx="331.5" cy="998.0" r="5.45" fill="#e100ff"/>
<circle cx="344.0" cy="995.5" r="5.45" fill="#0000ff"/>
<circle cx="376.4" cy="998.0" r="5.45" fill="#d90000"/>
<circle cx="389.2" cy="1011.8" r="5.45" fill="#d90000"/>
<circle cx="362.8" cy="1016.2" r="5.45" fill="#0000ff"/>
<circle cx="440.7" cy="998.0" r="5.45" fill="#8cffff"/>
<circle cx="750.5" cy="205.3" r="5.45" fill="#0000ff"/>
<circle cx="754.4" cy="284.5" r="5.45" fill="#e07f24"/>
<circle cx="775.4" cy="300.4" r="5.45" fill="#8cffff"/>
<circle cx="779.7" cy="314.1" r="5.45" fill="#8cffff"/>
<circle cx="750.9" cy="319.0" r="5.45" fill="#e07f24"/>
<circle cx="746.4" cy="316.5" r="5.45" fill="#0000ff"/>
<circle cx="741.1" cy="329.2" r="5.45" fill="#0000ff"/>
<circle cx="730.3" cy="349.2" r="5.45" fill="#e07f24"/>
<circle cx="784.8" cy="359.6" r="5.45" fill="#e100ff"/>
<circle cx="789.1" cy="379.6" r="5.45" fill="#e100ff"/>
<circle cx="722.1" cy="399.8" r="5.45" fill="#0000ff"/>
<circle cx="738.7" cy="399.8" r="5.45" fill="#0000ff"/>
<circle cx="713.6" cy="422.7" r="5.45" fill="#8cff32"/>
<circle cx="732.6" cy="419.4" r="5.45" fill="#e07f24"/>
<circle cx="765.0" cy="424.3" r="5.45" fill="#e100ff"/>
<circle cx="783.8" cy="417.8" r="5.45" fill="#0000ff"/>
<circle cx="842.5" cy="307.6" r="5.45" fill="#e100ff"/>
<circle cx="837.2" cy="326.7" r="5.45" fill="#e100ff"/>
<circle cx="849.9" cy="318.8" r="5.45" fill="#8cffff"/>
<circle cx="856.0" cy="356.4" r="5.45" fill="#e100ff"/>
<circle cx="826.8" cy="396.9" r="5.45" fill="#0000ff"/>
<circle cx="821.5" cy="401.8" r="5.45" fill="#0000ff"/>
<circle cx="823.8" cy="404.7" r="5.45" fill="#0000ff"/>
<circle cx="860.4" cy="321.0" r="5.45" fill="#0000ff"/>
<circle cx="886.5" cy="305.2" r="5.45" fill="#e100ff"/>
<circle cx="882.4" cy="325.4" r="5.45" fill="#d90000"/>
<circle cx="916.2" cy="333.1" r="5.45" fill="#e07f24"/>
<circle cx="863.0" cy="346.5" r="5.45" fill="#0000ff"/>
<circle cx="868.1" cy="347.4" r="5.45" fill="#0000ff"/>
<circle cx="876.2" cy="355.1" r="5.45" fill="#0000ff"/>
<circle cx="895.3" cy="349.4" r="5.45" fill="#e07f24"/>
<circle cx="870.7" cy="365.2" r="5.45" fill="#0000ff"/>
<circle cx="869.0" cy="396.3" r="5.45" fill="#0000ff"/>
<circle cx="887.6" cy="461.1" r="5.45" fill="#0000ff"/>
<circle cx="965.1" cy="470.5" r="5.45" fill="#8cffff"/>
<circle cx="901.5" cy="541.2" r="5.45" fill="#d90000"/>
<circle cx="914.0" cy="541.2" r="5.45" fill="#d90000"/>
<circle cx="1308.8" cy="850.7" r="5.45" fill="#0000ff"/>
<circle cx="1271.0" cy="863.5" r="5.45" fill="#0000ff"/>
<circle cx="1275.2" cy="867.0" r="5.45" fill="#0000ff"/>
<circle cx="1362.4" cy="864.3" r="5.45" fill="#e100ff"/>
<circle cx="1375.0" cy="885.8" r="5.45" fill="#8cffff"/>
<circle cx="1314.1" cy="898.8" r="5.45" fill="#e100ff"/>
<circle cx="1279.6" cy="911.8" r="5.45" fill="#e07f24"/>
<circle cx="1367.5" cy="907.0" r="5.45" fill="#e100ff"/>
<circle cx="1352.1" cy="920.5" r="5.45" fill="#0000ff"/>
<circle cx="1309.9" cy="932.5" r="5.45" fill="#e100ff"/>
<circle cx="1304.7" cy="946.7" r="5.45" fill="#8cffff"/>
<circle cx="1247.0" cy="982.0" r="5.45" fill="#0000ff"/>
<circle cx="1238.4" cy="994.0" r="5.45" fill="#8cff32"/>
<circle cx="1275.2" cy="998.7" r="5.45" fill="#e07f24"/>
<circle cx="1263.9" cy="1011.0" r="5.45" fill="#0000ff"/>
<circle cx="1265.8" cy="1001.6" r="5.45" fill="#0000ff"/>
<circle cx="1255.3" cy="1008.6" r="5.45" fill="#e07f24"/>
<circle cx="1257.3" cy="1019.6" r="5.45" fill="#e07f24"/>
<circle cx="1300.3" cy="1009.9" r="5.45" fill="#8cffff"/>
<circle cx="1289.8" cy="1028.2" r="5.45" fill="#e100ff"/>
<circle cx="1348.6" cy="995.3" r="5.45" fill="#0000ff"/>
<circle cx="1346.7" cy="1004.7" r="5.45" fill="#0000ff"/>
<circle cx="1407.4" cy="933.2" r="5.45" fill="#d90000"/>
<circle cx="1401.0" cy="939.8" r="5.45" fill="#0000ff"/>
<circle cx="1385.4" cy="953.9" r="5.45" fill="#0000ff"/>
<circle cx="1381.1" cy="951.4" r="5.45" fill="#e100ff"/>
<circle cx="1411.8" cy="898.7" r="5.45" fill="#e100ff"/>
<circle cx="1441.3" cy="969.3" r="5.45" fill="#e07f24"/>
<circle cx="1490.4" cy="992.5" r="5.45" fill="#8cffff"/>
<circle cx="1420.2" cy="996.2" r="5.45" fill="#e07f24"/>
<circle cx="1388.2" cy="999.6" r="5.45" fill="#0000ff"/>
<circle cx="1394.3" cy="1000.0" r="5.45" fill="#0000ff"/>
<circle cx="1395.8" cy="1006.0" r="5.45" fill="#0000ff"/>
<circle cx="1392.6" cy="1012.2" r="5.45" fill="#0000ff"/>
<circle cx="1412.7" cy="1033.9" r="5.45" fill="#0000ff"/>
<circle cx="1426.3" cy="1061.2" r="5.45" fill="#d90000"/>
<circle cx="1439.1" cy="1061.2" r="5.45" fill="#d90000"/>
</g>
</svg></body></html>
